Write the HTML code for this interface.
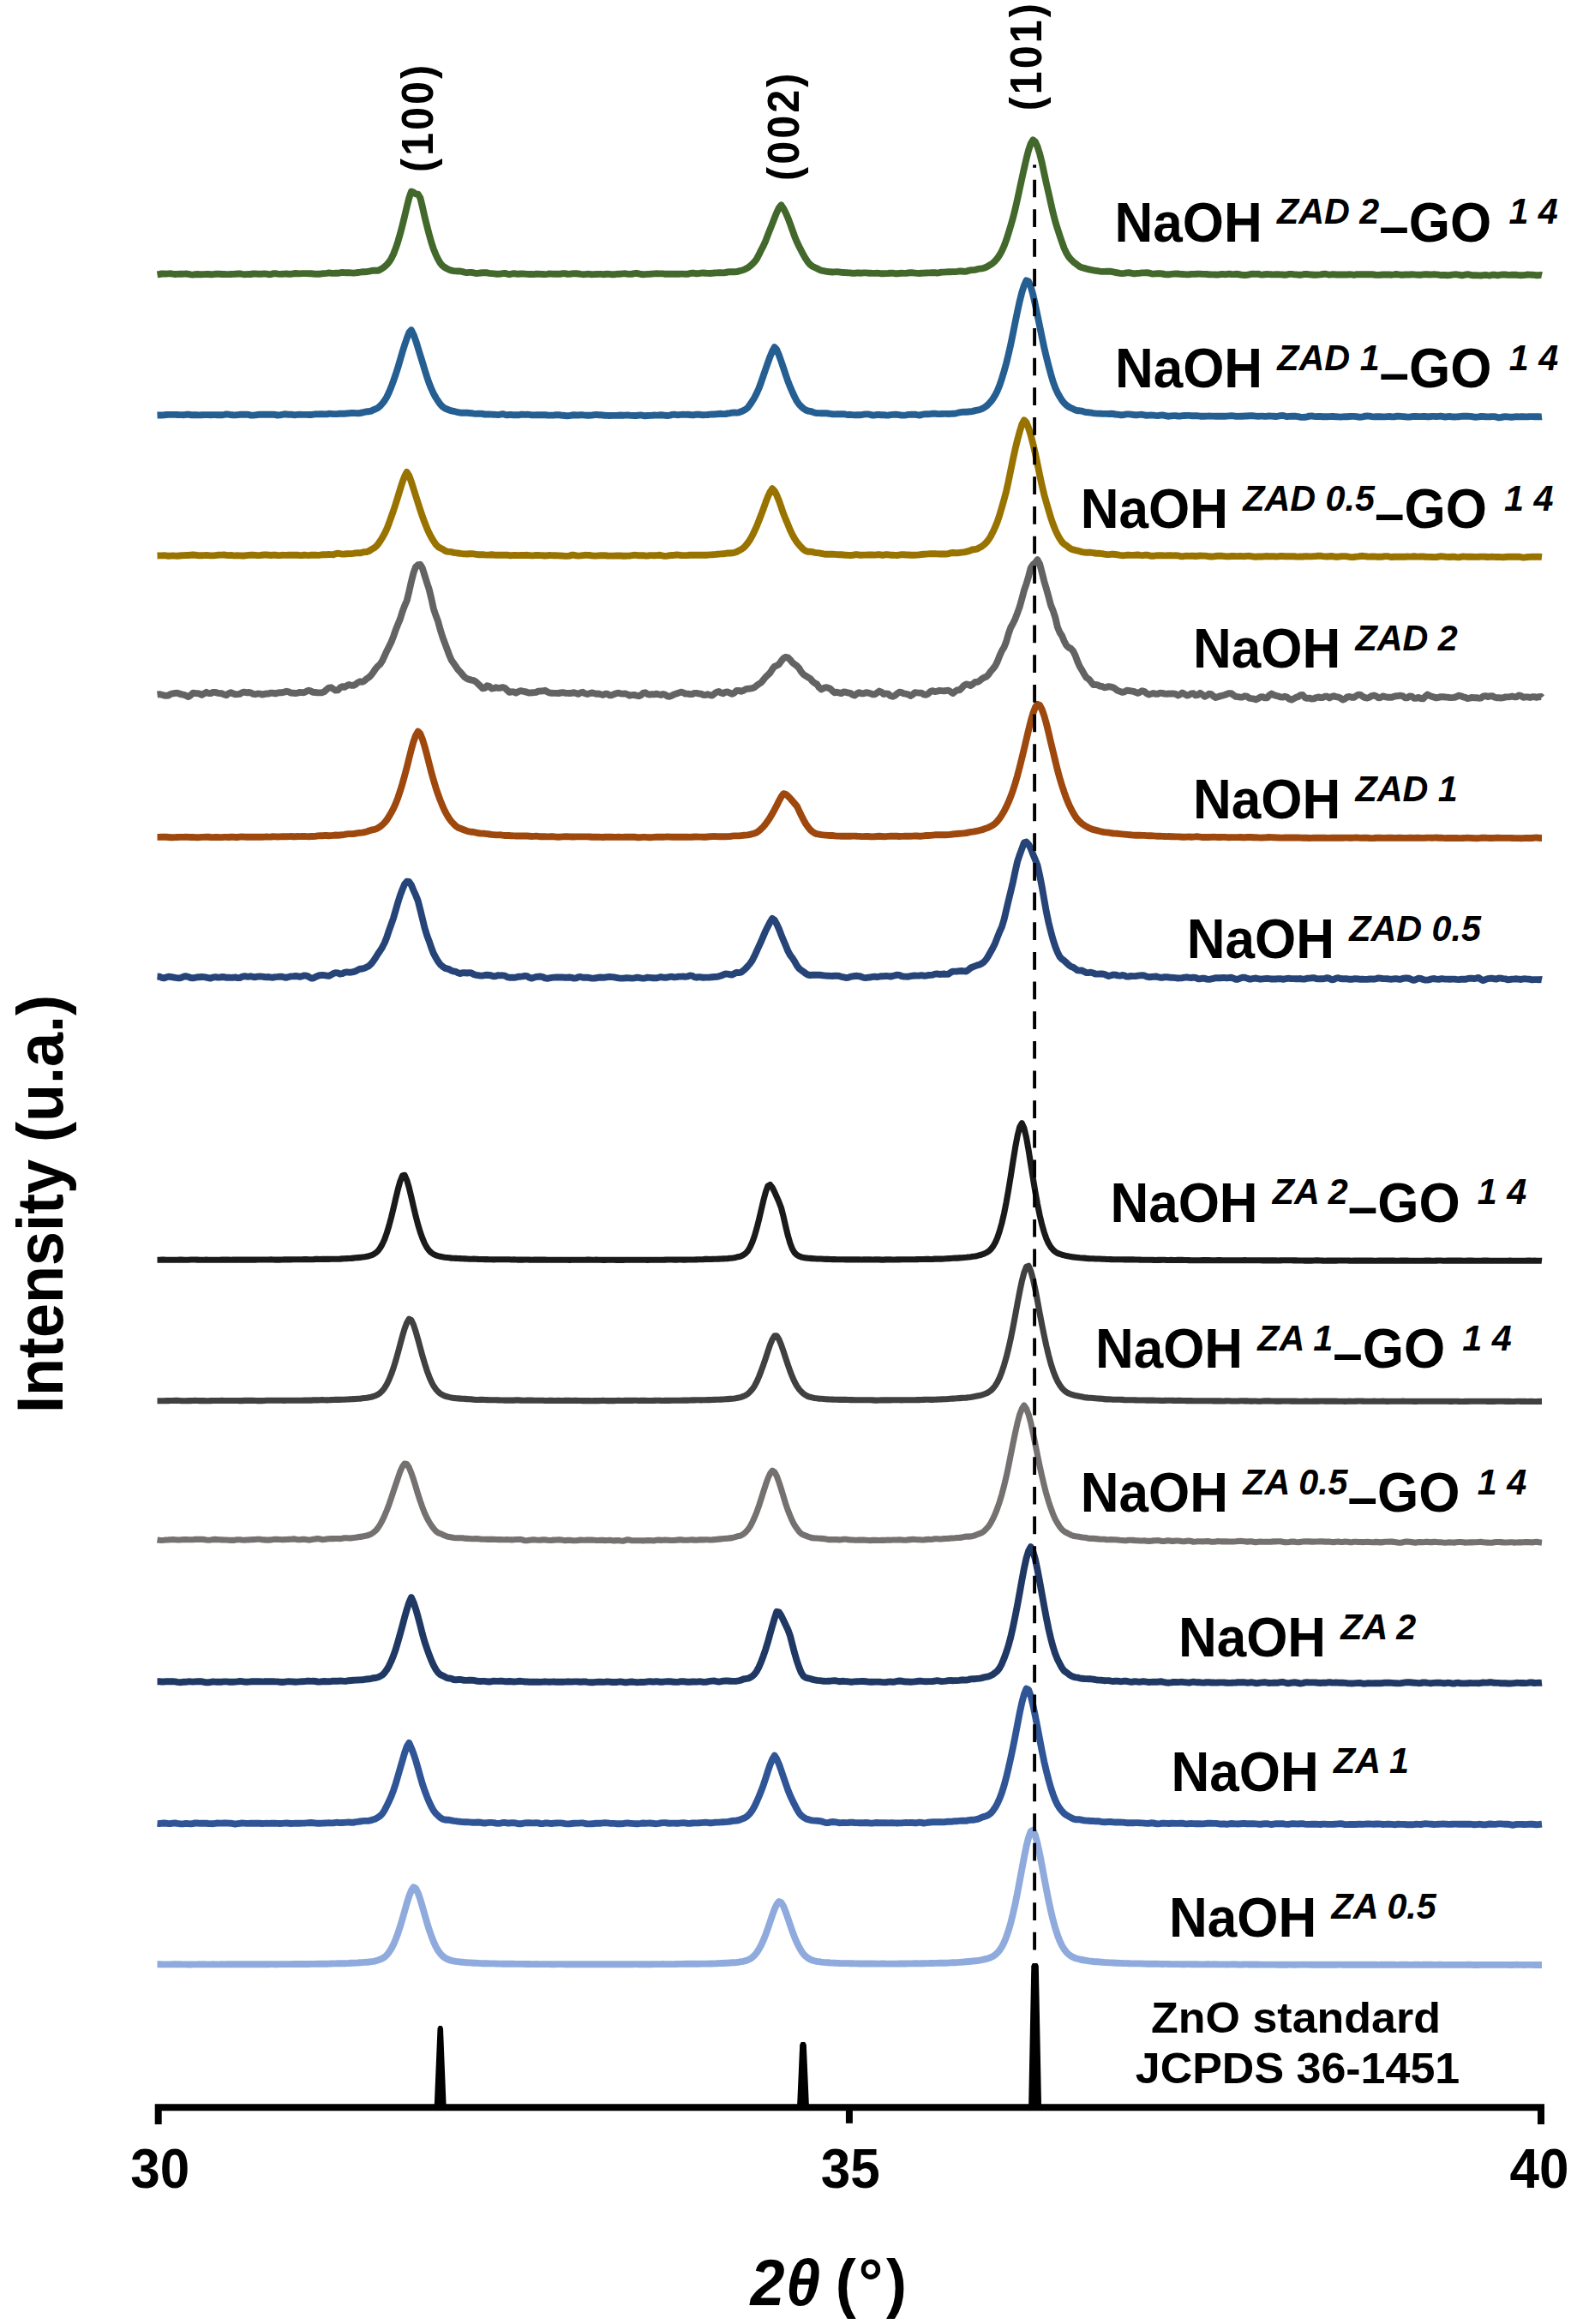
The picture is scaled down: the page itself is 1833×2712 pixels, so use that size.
<!DOCTYPE html>
<html lang="en"><head><meta charset="utf-8"><title>XRD patterns</title>
<style>html,body{margin:0;padding:0;background:#fff;overflow:hidden;width:1833px;height:2712px;}svg{display:block;}text{font-family:'Liberation Sans', Arial, Helvetica, sans-serif;fill:#000;}</style>
</head><body>
<svg width="1833" height="2712" viewBox="0 0 1833 2712">
<rect x="0" y="0" width="1833" height="2712" fill="#ffffff"/>
<g id="chart">
<g id="curves">
<path d="M183.5,320.4 186.1,320.0 188.7,319.5 191.3,319.4 193.9,319.6 196.5,319.4 199.1,319.3 201.7,319.7 204.3,320.0 206.9,319.9 209.5,319.7 212.1,319.7 214.7,319.6 217.3,319.5 219.9,319.8 222.5,320.3 225.1,320.6 227.7,320.2 230.3,320.0 232.9,320.2 235.5,320.2 238.1,320.1 240.7,319.9 243.3,320.0 245.9,320.2 248.5,320.2 251.1,319.8 253.7,319.6 256.3,319.8 258.9,320.0 261.5,320.0 264.1,320.1 266.7,320.1 269.3,320.0 271.9,319.9 274.5,319.8 277.1,319.5 279.7,319.4 282.3,319.9 284.9,320.2 287.5,320.1 290.1,320.0 292.7,320.0 295.3,319.5 297.9,319.4 300.5,319.7 303.1,319.8 305.7,319.7 308.3,319.4 310.9,319.6 313.5,320.2 316.1,320.1 318.7,319.3 321.3,319.1 323.9,319.6 326.5,319.9 329.1,319.8 331.7,319.6 334.3,319.5 336.9,319.8 339.5,319.9 342.1,319.4 344.7,319.0 347.3,319.2 349.9,319.4 352.5,319.1 355.1,319.1 357.7,319.1 360.3,319.2 362.9,319.3 365.5,319.5 368.1,319.8 370.7,319.8 373.3,319.7 375.9,319.3 378.5,319.1 381.1,318.8 383.7,318.4 386.3,318.7 388.9,318.9 391.5,318.7 394.1,318.8 396.7,318.4 399.3,318.0 401.9,318.1 404.5,318.2 407.1,318.2 409.7,318.4 412.3,318.6 414.9,318.3 417.5,318.0 420.1,317.7 422.7,317.3 425.3,317.3 427.9,317.1 430.5,316.7 433.1,316.2 435.7,315.7 438.3,315.7 440.9,315.7 443.5,314.7 446.1,313.1 448.7,311.2 451.3,308.9 453.9,305.8 456.5,301.8 459.1,296.5 461.7,289.7 464.3,281.9 466.9,272.9 469.5,262.9 472.1,252.4 474.7,241.3 477.3,231.0 479.9,223.5 482.5,224.5 485.1,226.4 487.7,226.7 490.3,230.8 492.9,241.3 495.5,253.0 498.1,263.5 500.7,273.4 503.3,282.7 505.9,290.7 508.5,297.1 511.1,302.5 513.7,307.0 516.3,310.1 518.9,312.0 521.5,313.5 524.1,314.8 526.7,315.6 529.3,316.1 531.9,316.4 534.5,316.5 537.1,316.5 539.7,317.1 542.3,317.8 544.9,318.1 547.5,317.9 550.1,317.9 552.7,318.4 555.3,319.0 557.9,318.9 560.5,318.5 563.1,318.3 565.7,318.1 568.3,318.3 570.9,318.8 573.5,319.1 576.1,319.4 578.7,319.7 581.3,319.7 583.9,319.6 586.5,319.1 589.1,318.9 591.7,319.6 594.3,320.2 596.9,319.7 599.5,319.1 602.1,319.5 604.7,319.7 607.3,319.5 609.9,319.5 612.5,319.6 615.1,319.9 617.7,320.0 620.3,320.0 622.9,320.1 625.5,319.7 628.1,319.6 630.7,319.9 633.3,320.0 635.9,320.1 638.5,319.8 641.1,319.4 643.7,319.6 646.3,319.8 648.9,319.7 651.5,319.8 654.1,319.7 656.7,319.2 659.3,319.2 661.9,319.8 664.5,319.9 667.1,319.4 669.7,319.2 672.3,319.3 674.9,319.5 677.5,319.9 680.1,320.2 682.7,320.1 685.3,319.8 687.9,319.9 690.5,320.3 693.1,320.1 695.7,320.0 698.3,319.9 700.9,319.9 703.5,320.2 706.1,320.0 708.7,319.8 711.3,319.9 713.9,320.3 716.5,320.3 719.1,319.9 721.7,319.7 724.3,319.7 726.9,319.4 729.5,319.3 732.1,319.7 734.7,319.9 737.3,319.8 739.9,319.2 742.5,318.8 745.1,319.4 747.7,320.0 750.3,320.2 752.9,320.1 755.5,319.9 758.1,319.8 760.7,319.6 763.3,319.4 765.9,319.3 768.5,319.4 771.1,319.4 773.7,319.4 776.3,319.8 778.9,319.7 781.5,319.6 784.1,319.8 786.7,319.7 789.3,319.7 791.9,319.8 794.5,319.6 797.1,319.6 799.7,319.9 802.3,319.8 804.9,319.2 807.5,318.6 810.1,318.8 812.7,319.3 815.3,319.1 817.9,318.6 820.5,318.5 823.1,318.7 825.7,318.9 828.3,319.0 830.9,318.8 833.5,318.5 836.1,318.4 838.7,318.2 841.3,318.2 843.9,318.4 846.5,318.0 849.1,317.5 851.7,317.2 854.3,317.2 856.9,317.3 859.5,317.1 862.1,316.4 864.7,315.7 867.3,315.0 869.9,313.8 872.5,312.4 875.1,310.6 877.7,308.3 880.3,305.6 882.9,302.1 885.5,297.2 888.1,291.8 890.7,286.9 893.3,281.1 895.9,274.2 898.5,267.6 901.1,261.1 903.7,254.4 906.3,247.9 908.9,242.5 911.5,239.4 914.1,243.2 916.7,248.2 919.3,254.2 921.9,261.2 924.5,268.4 927.1,275.7 929.7,282.1 932.3,287.4 934.9,292.6 937.5,297.5 940.1,301.9 942.7,305.9 945.3,308.8 947.9,310.7 950.5,312.0 953.1,313.2 955.7,314.6 958.3,315.7 960.9,316.1 963.5,316.6 966.1,317.0 968.7,317.3 971.3,317.5 973.9,317.4 976.5,317.2 979.1,317.4 981.7,317.9 984.3,318.0 986.9,318.1 989.5,318.3 992.1,318.4 994.7,318.9 997.3,318.8 999.9,318.4 1002.5,318.5 1005.1,318.7 1007.7,318.4 1010.3,318.4 1012.9,318.7 1015.5,318.8 1018.1,318.9 1020.7,318.9 1023.3,318.8 1025.9,318.9 1028.5,319.3 1031.1,319.2 1033.7,319.1 1036.3,319.0 1038.9,318.6 1041.5,318.7 1044.1,319.2 1046.7,319.2 1049.3,319.0 1051.9,318.8 1054.5,318.9 1057.1,318.9 1059.7,318.5 1062.3,318.1 1064.9,318.3 1067.5,318.6 1070.1,318.9 1072.7,319.0 1075.3,318.8 1077.9,318.6 1080.5,318.5 1083.1,318.4 1085.7,318.3 1088.3,318.1 1090.9,318.2 1093.5,318.6 1096.1,318.2 1098.7,317.6 1101.3,317.6 1103.9,317.4 1106.5,317.3 1109.1,317.2 1111.7,317.1 1114.3,317.1 1116.9,316.8 1119.5,316.4 1122.1,316.5 1124.7,316.8 1127.3,316.7 1129.9,315.9 1132.5,315.2 1135.1,315.1 1137.7,314.9 1140.3,314.2 1142.9,313.7 1145.5,313.4 1148.1,312.7 1150.7,311.7 1153.3,310.3 1155.9,308.7 1158.5,306.9 1161.1,304.5 1163.7,301.4 1166.3,297.6 1168.9,292.9 1171.5,287.2 1174.1,280.2 1176.7,272.0 1179.3,263.4 1181.9,254.4 1184.5,244.0 1187.1,232.5 1189.7,220.5 1192.3,208.5 1194.9,196.6 1197.5,185.3 1200.1,175.3 1202.7,167.6 1205.3,163.4 1207.9,165.4 1210.5,171.1 1213.1,179.4 1215.7,189.8 1218.3,202.1 1220.9,214.3 1223.5,225.4 1226.1,237.1 1228.7,248.6 1231.3,258.5 1233.9,267.1 1236.5,274.9 1239.1,282.7 1241.7,289.8 1244.3,295.4 1246.9,299.6 1249.5,302.7 1252.1,305.3 1254.7,307.3 1257.3,309.4 1259.9,311.3 1262.5,312.2 1265.1,312.9 1267.7,313.7 1270.3,314.3 1272.9,314.9 1275.5,315.4 1278.1,315.8 1280.7,316.2 1283.3,316.6 1285.9,316.9 1288.5,316.9 1291.1,316.8 1293.7,316.8 1296.3,316.8 1298.9,317.3 1301.5,318.0 1304.1,318.4 1306.7,318.9 1309.3,319.2 1311.9,318.9 1314.5,318.4 1317.1,318.1 1319.7,318.6 1322.3,319.3 1324.9,319.2 1327.5,318.9 1330.1,318.7 1332.7,318.4 1335.3,318.4 1337.9,318.3 1340.5,318.5 1343.1,319.3 1345.7,319.6 1348.3,319.4 1350.9,319.3 1353.5,319.2 1356.1,319.5 1358.7,320.0 1361.3,320.3 1363.9,320.3 1366.5,319.9 1369.1,319.6 1371.7,319.4 1374.3,319.5 1376.9,319.9 1379.5,320.0 1382.1,320.1 1384.7,320.4 1387.3,320.3 1389.9,319.9 1392.5,319.9 1395.1,319.8 1397.7,319.6 1400.3,319.6 1402.9,319.9 1405.5,319.9 1408.1,320.0 1410.7,320.3 1413.3,320.4 1415.9,320.4 1418.5,320.5 1421.1,320.6 1423.7,320.2 1426.3,319.9 1428.9,320.2 1431.5,320.0 1434.1,319.6 1436.7,320.0 1439.3,320.1 1441.9,319.8 1444.5,320.0 1447.1,320.5 1449.7,320.9 1452.3,321.0 1454.9,320.9 1457.5,320.4 1460.1,319.7 1462.7,319.8 1465.3,319.9 1467.9,319.7 1470.5,320.3 1473.1,320.6 1475.7,320.2 1478.3,320.0 1480.9,320.1 1483.5,320.3 1486.1,320.4 1488.7,320.3 1491.3,320.2 1493.9,320.4 1496.5,320.5 1499.1,320.7 1501.7,320.5 1504.3,319.9 1506.9,319.9 1509.5,320.2 1512.1,320.4 1514.7,320.7 1517.3,320.8 1519.9,320.4 1522.5,319.9 1525.1,320.0 1527.7,320.4 1530.3,320.5 1532.9,320.7 1535.5,320.7 1538.1,320.6 1540.7,320.4 1543.3,320.0 1545.9,319.7 1548.5,320.2 1551.1,320.6 1553.7,320.3 1556.3,320.2 1558.9,320.5 1561.5,320.5 1564.1,320.5 1566.7,320.5 1569.3,320.4 1571.9,320.5 1574.5,320.3 1577.1,320.4 1579.7,320.8 1582.3,320.3 1584.9,320.1 1587.5,320.3 1590.1,320.3 1592.7,320.1 1595.3,320.2 1597.9,320.2 1600.5,320.2 1603.1,320.5 1605.7,320.9 1608.3,320.9 1610.9,320.7 1613.5,320.5 1616.1,320.5 1618.7,320.4 1621.3,320.5 1623.9,320.7 1626.5,320.4 1629.1,320.0 1631.7,320.3 1634.3,320.7 1636.9,320.7 1639.5,320.5 1642.1,320.5 1644.7,320.5 1647.3,320.3 1649.9,320.4 1652.5,320.6 1655.1,320.7 1657.7,320.8 1660.3,320.4 1662.9,320.1 1665.5,320.3 1668.1,320.5 1670.7,320.4 1673.3,320.3 1675.9,320.4 1678.5,320.7 1681.1,321.1 1683.7,321.0 1686.3,321.0 1688.9,321.3 1691.5,321.1 1694.1,320.6 1696.7,320.4 1699.3,320.3 1701.9,320.6 1704.5,321.2 1707.1,321.2 1709.7,320.6 1712.3,320.2 1714.9,320.7 1717.5,321.2 1720.1,321.2 1722.7,321.3 1725.3,321.4 1727.9,321.5 1730.5,321.1 1733.1,320.8 1735.7,321.2 1738.3,321.5 1740.9,320.8 1743.5,320.6 1746.1,321.2 1748.7,321.2 1751.3,320.7 1753.9,320.4 1756.5,320.5 1759.1,320.9 1761.7,320.9 1764.3,320.7 1766.9,320.6 1769.5,320.8 1772.1,321.1 1774.7,321.2 1777.3,321.1 1779.9,320.8 1782.5,320.5 1785.1,320.6 1787.7,320.7 1790.3,320.9 1792.9,321.3 1795.5,321.2 1798.1,320.9 1799.0,321.1" fill="none" stroke="#43682B" stroke-width="7.9" stroke-linejoin="round" stroke-linecap="butt"/>
<path d="M183.5,484.5 186.1,484.4 188.7,484.5 191.3,484.4 193.9,484.0 196.5,483.9 199.1,483.9 201.7,483.9 204.3,483.9 206.9,484.0 209.5,484.1 212.1,484.1 214.7,484.2 217.3,483.8 219.9,483.6 222.5,484.2 225.1,484.3 227.7,484.1 230.3,484.3 232.9,484.4 235.5,484.2 238.1,484.1 240.7,484.1 243.3,484.1 245.9,484.3 248.5,484.1 251.1,484.1 253.7,484.3 256.3,484.3 258.9,484.3 261.5,483.9 264.1,483.4 266.7,483.7 269.3,484.1 271.9,484.3 274.5,484.4 277.1,484.1 279.7,483.8 282.3,483.7 284.9,483.8 287.5,483.6 290.1,483.9 292.7,484.6 295.3,484.6 297.9,484.3 300.5,484.0 303.1,483.7 305.7,483.7 308.3,483.8 310.9,483.7 313.5,483.7 316.1,483.7 318.7,483.7 321.3,484.0 323.9,484.5 326.5,484.4 329.1,483.8 331.7,483.3 334.3,483.5 336.9,483.7 339.5,483.7 342.1,484.0 344.7,484.2 347.3,483.9 349.9,483.8 352.5,483.9 355.1,483.9 357.7,483.9 360.3,484.0 362.9,484.0 365.5,483.6 368.1,483.3 370.7,483.4 373.3,483.2 375.9,483.1 378.5,483.4 381.1,483.3 383.7,482.8 386.3,482.9 388.9,483.1 391.5,483.1 394.1,483.0 396.7,482.7 399.3,482.7 401.9,482.7 404.5,482.5 407.1,482.3 409.7,482.0 412.3,481.9 414.9,482.1 417.5,482.3 420.1,482.0 422.7,481.5 425.3,480.9 427.9,480.3 430.5,480.2 433.1,479.6 435.7,478.3 438.3,477.3 440.9,476.0 443.5,473.7 446.1,470.9 448.7,467.5 451.3,463.2 453.9,457.8 456.5,451.5 459.1,444.4 461.7,436.9 464.3,428.7 466.9,419.9 469.5,410.9 472.1,402.6 474.7,394.9 477.3,388.2 479.9,385.2 482.5,390.4 485.1,397.5 487.7,405.9 490.3,414.4 492.9,422.7 495.5,431.3 498.1,439.7 500.7,447.2 503.3,453.7 505.9,459.3 508.5,464.0 511.1,468.1 513.7,471.8 516.3,474.5 518.9,476.4 521.5,477.5 524.1,478.5 526.7,479.4 529.3,479.9 531.9,480.5 534.5,481.2 537.1,481.7 539.7,481.7 542.3,481.7 544.9,481.8 547.5,482.0 550.1,482.2 552.7,482.6 555.3,482.9 557.9,482.8 560.5,482.7 563.1,483.0 565.7,483.5 568.3,483.5 570.9,483.5 573.5,483.6 576.1,483.7 578.7,483.9 581.3,484.1 583.9,483.7 586.5,483.1 589.1,483.8 591.7,484.4 594.3,484.0 596.9,484.0 599.5,484.3 602.1,484.3 604.7,484.3 607.3,483.8 609.9,483.6 612.5,483.9 615.1,483.8 617.7,483.9 620.3,484.3 622.9,484.4 625.5,484.3 628.1,484.2 630.7,484.3 633.3,484.3 635.9,484.2 638.5,484.5 641.1,484.6 643.7,484.6 646.3,484.5 648.9,484.2 651.5,484.2 654.1,484.5 656.7,484.8 659.3,485.0 661.9,485.3 664.5,485.1 667.1,484.5 669.7,484.3 672.3,484.5 674.9,484.5 677.5,484.3 680.1,484.3 682.7,484.6 685.3,484.7 687.9,484.7 690.5,484.6 693.1,484.1 695.7,483.9 698.3,484.2 700.9,484.3 703.5,484.5 706.1,484.8 708.7,484.9 711.3,485.0 713.9,484.9 716.5,484.9 719.1,484.9 721.7,484.7 724.3,484.5 726.9,484.7 729.5,484.6 732.1,484.4 734.7,484.7 737.3,484.9 739.9,485.0 742.5,485.0 745.1,484.6 747.7,484.4 750.3,485.0 752.9,485.2 755.5,485.0 758.1,484.9 760.7,484.8 763.3,484.5 765.9,484.6 768.5,484.5 771.1,484.3 773.7,484.5 776.3,484.8 778.9,485.0 781.5,484.7 784.1,483.9 786.7,483.7 789.3,484.1 791.9,484.2 794.5,483.9 797.1,483.8 799.7,483.9 802.3,483.8 804.9,484.0 807.5,484.3 810.1,484.2 812.7,483.7 815.3,483.6 817.9,484.0 820.5,484.2 823.1,484.1 825.7,484.0 828.3,483.6 830.9,483.5 833.5,483.5 836.1,483.2 838.7,483.0 841.3,482.8 843.9,483.1 846.5,483.0 849.1,482.5 851.7,482.2 854.3,481.6 856.9,481.4 859.5,481.7 862.1,481.3 864.7,480.3 867.3,479.1 869.9,477.8 872.5,475.7 875.1,472.2 877.7,468.3 880.3,464.0 882.9,458.9 885.5,453.0 888.1,446.0 890.7,438.4 893.3,430.8 895.9,423.4 898.5,416.2 901.1,409.9 903.7,405.2 906.3,408.2 908.9,414.4 911.5,421.8 914.1,429.4 916.7,437.2 919.3,444.7 921.9,451.4 924.5,457.3 927.1,463.0 929.7,468.1 932.3,471.8 934.9,474.5 937.5,476.8 940.1,478.5 942.7,479.5 945.3,479.9 947.9,480.6 950.5,481.6 953.1,482.1 955.7,482.1 958.3,482.2 960.9,482.2 963.5,482.1 966.1,482.5 968.7,482.9 971.3,483.3 973.9,483.4 976.5,483.2 979.1,483.2 981.7,483.2 984.3,483.2 986.9,483.7 989.5,484.0 992.1,483.8 994.7,484.1 997.3,484.4 999.9,484.2 1002.5,484.3 1005.1,484.1 1007.7,483.7 1010.3,483.4 1012.9,483.4 1015.5,483.9 1018.1,484.6 1020.7,484.5 1023.3,483.9 1025.9,484.0 1028.5,484.2 1031.1,484.2 1033.7,484.5 1036.3,484.6 1038.9,484.2 1041.5,483.9 1044.1,483.8 1046.7,483.8 1049.3,484.2 1051.9,484.6 1054.5,484.6 1057.1,484.3 1059.7,483.9 1062.3,483.8 1064.9,483.6 1067.5,483.7 1070.1,484.2 1072.7,484.5 1075.3,484.0 1077.9,483.4 1080.5,483.1 1083.1,483.2 1085.7,483.0 1088.3,482.7 1090.9,482.7 1093.5,483.0 1096.1,483.1 1098.7,483.0 1101.3,482.9 1103.9,482.9 1106.5,483.0 1109.1,482.9 1111.7,482.7 1114.3,482.6 1116.9,482.0 1119.5,481.3 1122.1,480.9 1124.7,480.7 1127.3,480.7 1129.9,480.5 1132.5,480.3 1135.1,479.9 1137.7,479.1 1140.3,478.6 1142.9,478.1 1145.5,477.1 1148.1,475.8 1150.7,474.0 1153.3,471.6 1155.9,468.8 1158.5,465.3 1161.1,461.2 1163.7,456.1 1166.3,449.7 1168.9,441.9 1171.5,433.4 1174.1,424.0 1176.7,413.4 1179.3,401.8 1181.9,389.2 1184.5,376.2 1187.1,363.5 1189.7,351.7 1192.3,341.3 1194.9,333.1 1197.5,327.4 1200.1,328.5 1202.7,334.7 1205.3,343.8 1207.9,355.5 1210.5,368.1 1213.1,380.5 1215.7,393.3 1218.3,405.6 1220.9,416.7 1223.5,426.9 1226.1,436.6 1228.7,445.5 1231.3,452.7 1233.9,458.3 1236.5,463.0 1239.1,467.1 1241.7,470.4 1244.3,472.8 1246.9,474.7 1249.5,476.1 1252.1,477.2 1254.7,478.5 1257.3,479.3 1259.9,479.3 1262.5,479.6 1265.1,480.6 1267.7,481.1 1270.3,481.3 1272.9,481.7 1275.5,482.1 1278.1,482.4 1280.7,482.6 1283.3,482.6 1285.9,482.8 1288.5,482.9 1291.1,482.9 1293.7,483.0 1296.3,482.8 1298.9,483.0 1301.5,483.5 1304.1,483.7 1306.7,484.2 1309.3,484.3 1311.9,483.8 1314.5,483.4 1317.1,483.4 1319.7,483.7 1322.3,484.0 1324.9,484.3 1327.5,484.2 1330.1,483.9 1332.7,483.8 1335.3,484.3 1337.9,484.8 1340.5,484.6 1343.1,484.4 1345.7,484.6 1348.3,484.9 1350.9,485.1 1353.5,484.6 1356.1,484.4 1358.7,484.9 1361.3,485.5 1363.9,485.7 1366.5,485.4 1369.1,485.1 1371.7,485.1 1374.3,485.5 1376.9,485.6 1379.5,485.1 1382.1,485.0 1384.7,484.9 1387.3,484.9 1389.9,485.2 1392.5,485.3 1395.1,485.1 1397.7,485.3 1400.3,485.7 1402.9,485.8 1405.5,485.7 1408.1,485.6 1410.7,485.5 1413.3,485.6 1415.9,485.6 1418.5,485.7 1421.1,485.7 1423.7,485.7 1426.3,485.7 1428.9,485.7 1431.5,485.6 1434.1,485.4 1436.7,485.2 1439.3,485.4 1441.9,485.8 1444.5,485.9 1447.1,485.8 1449.7,485.7 1452.3,485.5 1454.9,485.5 1457.5,485.3 1460.1,485.1 1462.7,485.3 1465.3,485.6 1467.9,485.9 1470.5,485.6 1473.1,485.6 1475.7,485.9 1478.3,485.7 1480.9,485.4 1483.5,485.6 1486.1,485.8 1488.7,486.0 1491.3,485.6 1493.9,485.1 1496.5,484.9 1499.1,485.5 1501.7,486.2 1504.3,485.9 1506.9,485.6 1509.5,485.8 1512.1,485.8 1514.7,486.1 1517.3,486.8 1519.9,486.9 1522.5,486.8 1525.1,486.4 1527.7,485.6 1530.3,485.4 1532.9,485.9 1535.5,486.1 1538.1,486.0 1540.7,486.0 1543.3,486.2 1545.9,486.2 1548.5,486.2 1551.1,486.1 1553.7,485.9 1556.3,486.0 1558.9,486.3 1561.5,486.4 1564.1,486.6 1566.7,486.4 1569.3,486.2 1571.9,486.2 1574.5,486.0 1577.1,485.9 1579.7,485.9 1582.3,486.1 1584.9,486.5 1587.5,486.7 1590.1,486.3 1592.7,485.7 1595.3,485.5 1597.9,485.6 1600.5,486.1 1603.1,486.4 1605.7,486.3 1608.3,486.3 1610.9,486.3 1613.5,486.4 1616.1,486.4 1618.7,486.1 1621.3,486.0 1623.9,486.4 1626.5,486.4 1629.1,485.8 1631.7,485.7 1634.3,485.9 1636.9,486.1 1639.5,486.3 1642.1,486.6 1644.7,486.6 1647.3,486.1 1649.9,485.9 1652.5,486.0 1655.1,486.1 1657.7,486.1 1660.3,486.0 1662.9,486.0 1665.5,486.3 1668.1,486.3 1670.7,485.9 1673.3,485.9 1675.9,486.2 1678.5,485.9 1681.1,485.6 1683.7,486.1 1686.3,486.6 1688.9,486.1 1691.5,486.0 1694.1,486.4 1696.7,486.5 1699.3,486.4 1701.9,486.3 1704.5,485.9 1707.1,485.8 1709.7,485.7 1712.3,485.8 1714.9,485.9 1717.5,486.2 1720.1,486.6 1722.7,486.7 1725.3,486.4 1727.9,486.0 1730.5,486.0 1733.1,486.3 1735.7,486.4 1738.3,486.3 1740.9,486.1 1743.5,486.1 1746.1,486.7 1748.7,487.3 1751.3,487.1 1753.9,486.4 1756.5,486.1 1759.1,486.4 1761.7,486.7 1764.3,486.8 1766.9,486.4 1769.5,486.3 1772.1,486.4 1774.7,486.2 1777.3,486.1 1779.9,486.4 1782.5,486.3 1785.1,486.1 1787.7,486.1 1790.3,486.2 1792.9,486.2 1795.5,486.3 1798.1,486.4 1799.0,486.3" fill="none" stroke="#255E91" stroke-width="7.9" stroke-linejoin="round" stroke-linecap="butt"/>
<path d="M183.5,648.5 186.1,648.4 188.7,648.4 191.3,648.3 193.9,648.4 196.5,648.8 199.1,648.6 201.7,648.4 204.3,648.6 206.9,648.7 209.5,648.5 212.1,648.3 214.7,648.1 217.3,648.0 219.9,648.0 222.5,647.7 225.1,647.5 227.7,647.7 230.3,648.0 232.9,648.2 235.5,648.2 238.1,648.1 240.7,647.9 243.3,648.1 245.9,648.4 248.5,648.4 251.1,648.1 253.7,647.8 256.3,647.6 258.9,647.6 261.5,647.5 264.1,647.8 266.7,648.1 269.3,647.9 271.9,648.2 274.5,648.4 277.1,648.2 279.7,648.4 282.3,648.5 284.9,648.5 287.5,648.2 290.1,647.9 292.7,647.8 295.3,647.8 297.9,647.9 300.5,648.1 303.1,648.1 305.7,647.7 308.3,647.5 310.9,647.5 313.5,647.7 316.1,648.0 318.7,647.7 321.3,647.6 323.9,648.1 326.5,648.1 329.1,647.8 331.7,647.9 334.3,647.9 336.9,647.7 339.5,647.8 342.1,647.8 344.7,647.7 347.3,647.7 349.9,648.1 352.5,648.0 355.1,647.6 357.7,647.9 360.3,648.1 362.9,647.7 365.5,647.6 368.1,647.7 370.7,647.9 373.3,647.7 375.9,647.3 378.5,647.2 381.1,647.2 383.7,647.0 386.3,647.1 388.9,647.2 391.5,646.3 394.1,645.7 396.7,646.2 399.3,646.6 401.9,646.5 404.5,646.3 407.1,646.1 409.7,646.1 412.3,645.9 414.9,645.4 417.5,645.3 420.1,645.4 422.7,644.7 425.3,644.1 427.9,644.0 430.5,643.1 433.1,641.4 435.7,639.9 438.3,638.1 440.9,635.3 443.5,631.5 446.1,627.3 448.7,622.7 451.3,617.3 453.9,610.5 456.5,603.2 459.1,595.9 461.7,587.9 464.3,579.5 466.9,571.0 469.5,562.6 472.1,555.8 474.7,551.0 477.3,555.2 479.9,562.2 482.5,570.4 485.1,578.6 487.7,586.9 490.3,595.0 492.9,602.6 495.5,609.8 498.1,616.3 500.7,622.1 503.3,627.1 505.9,631.4 508.5,635.3 511.1,638.0 513.7,639.5 516.3,640.8 518.9,642.5 521.5,643.6 524.1,643.9 526.7,644.2 529.3,644.8 531.9,645.2 534.5,645.5 537.1,645.9 539.7,646.2 542.3,646.4 544.9,646.5 547.5,646.3 550.1,646.2 552.7,646.4 555.3,646.8 557.9,647.2 560.5,647.2 563.1,647.1 565.7,647.4 568.3,647.6 570.9,647.5 573.5,647.3 576.1,647.5 578.7,647.8 581.3,647.8 583.9,647.6 586.5,647.7 589.1,647.6 591.7,647.7 594.3,648.2 596.9,648.2 599.5,647.9 602.1,648.0 604.7,648.1 607.3,647.9 609.9,648.0 612.5,648.0 615.1,647.8 617.7,648.1 620.3,648.4 622.9,648.2 625.5,647.9 628.1,648.0 630.7,648.1 633.3,648.3 635.9,648.5 638.5,648.3 641.1,648.0 643.7,648.1 646.3,648.3 648.9,648.2 651.5,648.4 654.1,648.5 656.7,648.6 659.3,648.9 661.9,648.9 664.5,648.6 667.1,647.8 669.7,647.7 672.3,648.4 674.9,648.6 677.5,648.4 680.1,648.1 682.7,647.8 685.3,647.9 687.9,648.0 690.5,648.3 693.1,648.6 695.7,648.6 698.3,648.4 700.9,648.2 703.5,648.2 706.1,648.3 708.7,648.5 711.3,648.6 713.9,648.6 716.5,648.6 719.1,648.5 721.7,648.4 724.3,648.5 726.9,648.7 729.5,648.7 732.1,648.6 734.7,648.5 737.3,648.2 739.9,647.8 742.5,647.9 745.1,648.3 747.7,648.2 750.3,648.1 752.9,648.5 755.5,648.6 758.1,648.1 760.7,648.1 763.3,648.3 765.9,648.1 768.5,647.8 771.1,648.0 773.7,648.6 776.3,648.9 778.9,648.6 781.5,648.1 784.1,648.0 786.7,647.9 789.3,647.5 791.9,647.6 794.5,648.0 797.1,648.1 799.7,648.1 802.3,648.0 804.9,647.8 807.5,647.8 810.1,647.8 812.7,647.7 815.3,647.7 817.9,647.7 820.5,647.6 823.1,647.7 825.7,647.7 828.3,647.4 830.9,647.3 833.5,647.1 836.1,646.8 838.7,646.6 841.3,646.4 843.9,646.3 846.5,645.8 849.1,645.5 851.7,645.5 854.3,645.3 856.9,644.8 859.5,644.0 862.1,642.6 864.7,641.1 867.3,639.5 869.9,636.9 872.5,633.5 875.1,629.9 877.7,625.2 880.3,619.8 882.9,614.1 885.5,607.5 888.1,600.8 890.7,593.8 893.3,586.5 895.9,579.7 898.5,574.1 901.1,570.2 903.7,572.9 906.3,577.9 908.9,584.2 911.5,591.7 914.1,599.4 916.7,605.9 919.3,612.0 921.9,618.4 924.5,623.9 927.1,628.5 929.7,632.6 932.3,635.8 934.9,638.6 937.5,641.2 940.1,642.9 942.7,643.7 945.3,643.7 947.9,644.1 950.5,644.8 953.1,645.1 955.7,645.4 958.3,645.8 960.9,646.4 963.5,646.8 966.1,646.8 968.7,646.8 971.3,646.8 973.9,646.9 976.5,647.1 979.1,647.3 981.7,647.3 984.3,647.5 986.9,647.8 989.5,647.9 992.1,648.0 994.7,647.9 997.3,647.3 999.9,647.2 1002.5,647.7 1005.1,647.7 1007.7,647.6 1010.3,647.6 1012.9,647.5 1015.5,647.4 1018.1,647.5 1020.7,647.6 1023.3,647.3 1025.9,647.2 1028.5,647.7 1031.1,647.7 1033.7,647.2 1036.3,647.3 1038.9,647.7 1041.5,647.8 1044.1,647.9 1046.7,648.0 1049.3,647.6 1051.9,647.2 1054.5,647.3 1057.1,647.5 1059.7,647.5 1062.3,647.7 1064.9,647.8 1067.5,647.7 1070.1,647.6 1072.7,647.3 1075.3,647.0 1077.9,646.8 1080.5,646.6 1083.1,646.4 1085.7,646.3 1088.3,646.2 1090.9,646.1 1093.5,646.4 1096.1,646.5 1098.7,646.4 1101.3,646.5 1103.9,646.5 1106.5,646.1 1109.1,645.4 1111.7,645.0 1114.3,645.2 1116.9,645.2 1119.5,645.0 1122.1,644.7 1124.7,644.4 1127.3,643.8 1129.9,643.2 1132.5,642.3 1135.1,641.3 1137.7,641.1 1140.3,640.5 1142.9,639.1 1145.5,637.7 1148.1,635.7 1150.7,633.1 1153.3,630.0 1155.9,625.9 1158.5,620.8 1161.1,615.2 1163.7,608.7 1166.3,600.9 1168.9,592.1 1171.5,583.0 1174.1,573.2 1176.7,561.5 1179.3,548.7 1181.9,536.1 1184.5,524.1 1187.1,513.5 1189.7,503.9 1192.3,495.4 1194.9,490.3 1197.5,493.0 1200.1,499.5 1202.7,507.9 1205.3,517.9 1207.9,529.1 1210.5,541.6 1213.1,554.3 1215.7,566.3 1218.3,577.2 1220.9,586.5 1223.5,595.4 1226.1,604.2 1228.7,611.7 1231.3,618.3 1233.9,623.9 1236.5,628.6 1239.1,632.4 1241.7,635.0 1244.3,636.6 1246.9,638.7 1249.5,640.5 1252.1,641.4 1254.7,642.1 1257.3,642.7 1259.9,643.3 1262.5,644.2 1265.1,644.5 1267.7,644.7 1270.3,644.8 1272.9,644.8 1275.5,645.1 1278.1,645.7 1280.7,645.8 1283.3,645.8 1285.9,646.2 1288.5,646.7 1291.1,647.0 1293.7,647.1 1296.3,646.8 1298.9,646.8 1301.5,647.0 1304.1,647.3 1306.7,647.8 1309.3,648.2 1311.9,648.1 1314.5,647.8 1317.1,647.8 1319.7,647.9 1322.3,647.9 1324.9,647.7 1327.5,647.5 1330.1,647.9 1332.7,648.2 1335.3,647.8 1337.9,647.6 1340.5,648.2 1343.1,648.8 1345.7,648.8 1348.3,648.4 1350.9,648.2 1353.5,648.2 1356.1,648.2 1358.7,648.4 1361.3,648.3 1363.9,648.1 1366.5,648.2 1369.1,648.4 1371.7,648.3 1374.3,648.4 1376.9,649.0 1379.5,649.3 1382.1,648.9 1384.7,648.7 1387.3,648.9 1389.9,648.7 1392.5,648.8 1395.1,649.0 1397.7,648.7 1400.3,648.5 1402.9,648.6 1405.5,648.6 1408.1,648.9 1410.7,649.3 1413.3,649.5 1415.9,649.4 1418.5,649.0 1421.1,648.7 1423.7,648.8 1426.3,648.8 1428.9,649.1 1431.5,649.4 1434.1,649.3 1436.7,649.0 1439.3,648.9 1441.9,649.1 1444.5,649.1 1447.1,648.9 1449.7,649.1 1452.3,649.2 1454.9,648.9 1457.5,648.8 1460.1,649.1 1462.7,649.6 1465.3,649.7 1467.9,649.5 1470.5,649.5 1473.1,649.5 1475.7,649.2 1478.3,649.0 1480.9,649.3 1483.5,649.3 1486.1,649.2 1488.7,649.5 1491.3,649.4 1493.9,649.0 1496.5,649.0 1499.1,649.2 1501.7,649.3 1504.3,649.3 1506.9,649.1 1509.5,649.2 1512.1,649.5 1514.7,649.6 1517.3,649.5 1519.9,649.5 1522.5,649.3 1525.1,649.2 1527.7,649.4 1530.3,649.4 1532.9,649.1 1535.5,649.0 1538.1,648.7 1540.7,648.7 1543.3,649.1 1545.9,649.4 1548.5,649.5 1551.1,649.2 1553.7,649.0 1556.3,649.3 1558.9,649.8 1561.5,649.7 1564.1,649.3 1566.7,649.1 1569.3,649.1 1571.9,649.4 1574.5,649.8 1577.1,650.1 1579.7,650.0 1582.3,649.7 1584.9,649.4 1587.5,649.0 1590.1,648.8 1592.7,649.1 1595.3,649.5 1597.9,649.6 1600.5,649.5 1603.1,649.4 1605.7,649.7 1608.3,649.8 1610.9,649.7 1613.5,649.5 1616.1,649.1 1618.7,649.1 1621.3,649.6 1623.9,650.0 1626.5,649.8 1629.1,649.6 1631.7,649.7 1634.3,649.7 1636.9,649.8 1639.5,649.7 1642.1,649.5 1644.7,649.6 1647.3,649.5 1649.9,649.3 1652.5,649.5 1655.1,649.6 1657.7,649.5 1660.3,649.5 1662.9,649.7 1665.5,649.9 1668.1,649.9 1670.7,650.0 1673.3,650.1 1675.9,650.0 1678.5,649.6 1681.1,649.2 1683.7,649.4 1686.3,649.7 1688.9,649.9 1691.5,650.0 1694.1,649.8 1696.7,649.6 1699.3,650.1 1701.9,650.4 1704.5,649.9 1707.1,649.4 1709.7,649.6 1712.3,649.8 1714.9,649.7 1717.5,649.7 1720.1,649.9 1722.7,649.9 1725.3,649.8 1727.9,649.6 1730.5,649.6 1733.1,649.8 1735.7,650.0 1738.3,649.9 1740.9,649.8 1743.5,649.9 1746.1,650.0 1748.7,650.0 1751.3,650.1 1753.9,650.2 1756.5,650.0 1759.1,649.8 1761.7,649.7 1764.3,649.8 1766.9,649.8 1769.5,649.7 1772.1,649.7 1774.7,650.2 1777.3,650.6 1779.9,650.3 1782.5,650.0 1785.1,649.9 1787.7,649.8 1790.3,649.8 1792.9,649.7 1795.5,649.7 1798.1,649.9 1799.0,650.0" fill="none" stroke="#997300" stroke-width="7.9" stroke-linejoin="round" stroke-linecap="butt"/>
<path d="M183.5,810.4 186.1,810.1 188.7,810.8 191.3,811.5 193.9,811.9 196.5,811.5 199.1,810.0 201.7,809.3 204.3,808.9 206.9,808.8 209.5,809.6 212.1,810.4 214.7,810.8 217.3,811.9 219.9,813.1 222.5,811.2 225.1,808.8 227.7,809.0 230.3,809.1 232.9,809.7 235.5,810.9 238.1,809.3 240.7,807.8 243.3,809.0 245.9,809.1 248.5,807.9 251.1,807.9 253.7,808.6 256.3,809.1 258.9,809.3 261.5,810.5 264.1,811.2 266.7,809.3 269.3,808.2 271.9,809.4 274.5,810.2 277.1,810.1 279.7,809.9 282.3,808.3 284.9,807.6 287.5,808.3 290.1,808.0 292.7,808.4 295.3,809.8 297.9,810.2 300.5,809.5 303.1,809.6 305.7,810.5 308.3,810.0 310.9,809.5 313.5,809.5 316.1,808.6 318.7,808.8 321.3,809.4 323.9,808.6 326.5,808.1 329.1,808.2 331.7,807.6 334.3,806.8 336.9,807.4 339.5,808.6 342.1,808.7 344.7,809.0 347.3,808.6 349.9,807.9 352.5,808.2 355.1,808.0 357.7,806.7 360.3,805.6 362.9,806.7 365.5,807.9 368.1,808.0 370.7,808.4 373.3,808.4 375.9,808.2 378.5,807.1 381.1,804.6 383.7,802.6 386.3,802.3 388.9,804.0 391.5,805.6 394.1,805.4 396.7,802.7 399.3,801.1 401.9,801.9 404.5,800.3 407.1,798.9 409.7,799.9 412.3,799.9 414.9,798.6 417.5,796.5 420.1,795.3 422.7,795.8 425.3,794.4 427.9,792.0 430.5,790.4 433.1,787.8 435.7,784.2 438.3,780.3 440.9,777.4 443.5,775.1 446.1,771.1 448.7,765.3 451.3,759.7 453.9,754.6 456.5,749.2 459.1,742.6 461.7,735.0 464.3,728.5 466.9,722.4 469.5,713.9 472.1,706.8 474.7,701.0 477.3,690.4 479.9,678.7 482.5,668.5 485.1,661.4 487.7,659.2 490.3,658.8 492.9,663.1 495.5,671.5 498.1,679.9 500.7,687.8 503.3,698.5 505.9,710.5 508.5,718.2 511.1,725.2 513.7,734.8 516.3,743.1 518.9,750.2 521.5,757.2 524.1,764.2 526.7,770.3 529.3,774.0 531.9,777.7 534.5,781.6 537.1,784.3 539.7,787.4 542.3,790.3 544.9,792.0 547.5,792.9 550.1,793.6 552.7,794.1 555.3,795.7 557.9,798.1 560.5,800.6 563.1,803.3 565.7,802.9 568.3,800.3 570.9,800.9 573.5,803.5 576.1,803.2 578.7,802.3 581.3,802.9 583.9,802.7 586.5,802.2 589.1,802.8 591.7,805.4 594.3,807.9 596.9,807.3 599.5,807.4 602.1,808.6 604.7,807.2 607.3,806.1 609.9,806.7 612.5,807.1 615.1,807.9 617.7,808.6 620.3,808.3 622.9,808.2 625.5,807.9 628.1,806.6 630.7,806.5 633.3,806.4 635.9,805.8 638.5,807.2 641.1,808.6 643.7,808.7 646.3,808.9 648.9,808.9 651.5,809.0 654.1,808.5 656.7,808.1 659.3,808.7 661.9,808.9 664.5,809.0 667.1,808.8 669.7,808.2 672.3,809.0 674.9,809.9 677.5,808.4 680.1,807.8 682.7,809.3 685.3,810.0 687.9,809.3 690.5,808.4 693.1,809.0 695.7,809.8 698.3,809.5 700.9,810.3 703.5,811.0 706.1,809.8 708.7,809.7 711.3,811.4 713.9,811.2 716.5,810.1 719.1,809.2 721.7,808.7 724.3,809.4 726.9,809.7 729.5,809.4 732.1,810.4 734.7,811.7 737.3,811.2 739.9,810.9 742.5,811.7 745.1,812.2 747.7,811.2 750.3,808.9 752.9,808.3 755.5,810.1 758.1,810.5 760.7,810.1 763.3,810.3 765.9,809.7 768.5,810.3 771.1,811.0 773.7,809.9 776.3,810.8 778.9,812.6 781.5,812.7 784.1,811.6 786.7,810.3 789.3,809.5 791.9,808.6 794.5,807.6 797.1,808.3 799.7,809.6 802.3,809.6 804.9,810.0 807.5,810.1 810.1,808.9 812.7,808.9 815.3,809.5 817.9,809.6 820.5,810.8 823.1,811.1 825.7,810.1 828.3,811.1 830.9,811.5 833.5,809.6 836.1,807.8 838.7,807.0 841.3,808.4 843.9,809.3 846.5,807.6 849.1,807.4 851.7,808.8 854.3,809.8 856.9,808.4 859.5,805.9 862.1,805.9 864.7,806.7 867.3,805.9 869.9,804.4 872.5,803.7 875.1,803.5 877.7,803.2 880.3,802.1 882.9,800.0 885.5,798.1 888.1,796.5 890.7,793.4 893.3,790.1 895.9,787.7 898.5,785.1 901.1,781.0 903.7,777.7 906.3,776.8 908.9,775.1 911.5,771.5 914.1,768.2 916.7,766.8 919.3,767.3 921.9,769.8 924.5,773.1 927.1,775.1 929.7,777.0 932.3,779.7 934.9,784.0 937.5,787.0 940.1,788.7 942.7,790.3 945.3,791.8 947.9,794.9 950.5,797.1 953.1,798.4 955.7,802.3 958.3,804.4 960.9,803.1 963.5,802.2 966.1,802.7 968.7,803.7 971.3,806.3 973.9,808.3 976.5,807.7 979.1,808.5 981.7,809.0 984.3,807.5 986.9,807.7 989.5,808.5 992.1,808.8 994.7,810.7 997.3,811.6 999.9,809.4 1002.5,808.2 1005.1,809.2 1007.7,809.2 1010.3,808.3 1012.9,808.5 1015.5,809.3 1018.1,810.2 1020.7,810.3 1023.3,808.5 1025.9,806.6 1028.5,807.6 1031.1,810.0 1033.7,809.4 1036.3,809.7 1038.9,812.0 1041.5,812.7 1044.1,811.8 1046.7,809.5 1049.3,807.7 1051.9,808.2 1054.5,809.4 1057.1,809.7 1059.7,810.4 1062.3,811.9 1064.9,810.5 1067.5,808.1 1070.1,808.4 1072.7,808.6 1075.3,808.7 1077.9,810.4 1080.5,810.8 1083.1,809.4 1085.7,807.0 1088.3,806.1 1090.9,807.1 1093.5,806.7 1096.1,805.8 1098.7,806.1 1101.3,806.4 1103.9,806.0 1106.5,805.7 1109.1,807.2 1111.7,809.0 1114.3,807.1 1116.9,805.3 1119.5,805.4 1122.1,802.9 1124.7,799.9 1127.3,798.5 1129.9,798.9 1132.5,800.1 1135.1,798.2 1137.7,796.0 1140.3,795.8 1142.9,794.6 1145.5,792.3 1148.1,790.7 1150.7,789.8 1153.3,787.2 1155.9,783.5 1158.5,780.5 1161.1,777.2 1163.7,772.1 1166.3,765.3 1168.9,759.5 1171.5,755.4 1174.1,748.8 1176.7,739.6 1179.3,732.2 1181.9,727.6 1184.5,722.2 1187.1,715.3 1189.7,708.2 1192.3,698.7 1194.9,688.9 1197.5,681.5 1200.1,672.6 1202.7,662.8 1205.3,659.0 1207.9,656.6 1210.5,653.3 1213.1,658.1 1215.7,667.9 1218.3,678.3 1220.9,687.2 1223.5,696.5 1226.1,706.4 1228.7,712.6 1231.3,720.7 1233.9,731.8 1236.5,738.0 1239.1,742.0 1241.7,748.2 1244.3,753.2 1246.9,755.6 1249.5,756.9 1252.1,759.7 1254.7,765.0 1257.3,772.1 1259.9,778.0 1262.5,782.2 1265.1,786.9 1267.7,790.9 1270.3,792.4 1272.9,795.5 1275.5,799.0 1278.1,798.9 1280.7,799.4 1283.3,800.6 1285.9,801.0 1288.5,802.3 1291.1,801.9 1293.7,801.1 1296.3,801.6 1298.9,802.3 1301.5,804.1 1304.1,805.9 1306.7,806.9 1309.3,807.9 1311.9,807.3 1314.5,805.8 1317.1,806.0 1319.7,806.4 1322.3,806.8 1324.9,807.8 1327.5,808.7 1330.1,807.7 1332.7,806.2 1335.3,807.0 1337.9,809.2 1340.5,810.5 1343.1,809.8 1345.7,809.0 1348.3,809.8 1350.9,809.7 1353.5,808.7 1356.1,808.9 1358.7,809.6 1361.3,809.7 1363.9,809.5 1366.5,809.5 1369.1,809.4 1371.7,809.9 1374.3,811.5 1376.9,810.4 1379.5,808.5 1382.1,809.9 1384.7,811.5 1387.3,811.0 1389.9,809.4 1392.5,809.2 1395.1,811.4 1397.7,810.9 1400.3,808.8 1402.9,810.5 1405.5,812.8 1408.1,811.7 1410.7,809.7 1413.3,810.2 1415.9,812.5 1418.5,814.0 1421.1,813.3 1423.7,812.3 1426.3,811.7 1428.9,811.0 1431.5,810.0 1434.1,809.1 1436.7,809.3 1439.3,811.2 1441.9,812.9 1444.5,813.2 1447.1,813.6 1449.7,813.5 1452.3,812.3 1454.9,812.7 1457.5,814.7 1460.1,815.1 1462.7,815.4 1465.3,816.3 1467.9,815.2 1470.5,813.5 1473.1,813.1 1475.7,814.3 1478.3,814.4 1480.9,811.5 1483.5,809.6 1486.1,810.9 1488.7,811.8 1491.3,812.3 1493.9,813.4 1496.5,813.6 1499.1,812.8 1501.7,813.6 1504.3,815.7 1506.9,816.6 1509.5,815.3 1512.1,813.8 1514.7,813.1 1517.3,811.1 1519.9,811.0 1522.5,814.0 1525.1,814.9 1527.7,814.6 1530.3,815.5 1532.9,815.4 1535.5,814.1 1538.1,813.5 1540.7,814.0 1543.3,814.1 1545.9,812.7 1548.5,812.8 1551.1,814.4 1553.7,813.1 1556.3,812.2 1558.9,813.2 1561.5,813.5 1564.1,814.7 1566.7,816.5 1569.3,815.5 1571.9,813.4 1574.5,813.0 1577.1,813.8 1579.7,813.8 1582.3,812.2 1584.9,810.7 1587.5,811.0 1590.1,812.9 1592.7,814.1 1595.3,814.5 1597.9,813.7 1600.5,812.1 1603.1,811.5 1605.7,812.4 1608.3,814.3 1610.9,814.0 1613.5,812.4 1616.1,813.1 1618.7,813.7 1621.3,813.8 1623.9,813.7 1626.5,812.8 1629.1,812.2 1631.7,812.0 1634.3,811.7 1636.9,812.4 1639.5,814.3 1642.1,814.4 1644.7,812.5 1647.3,812.6 1649.9,814.9 1652.5,814.7 1655.1,813.9 1657.7,815.1 1660.3,815.4 1662.9,812.7 1665.5,810.6 1668.1,811.8 1670.7,812.9 1673.3,813.6 1675.9,814.4 1678.5,813.9 1681.1,813.1 1683.7,813.2 1686.3,813.5 1688.9,813.6 1691.5,814.1 1694.1,814.1 1696.7,813.9 1699.3,813.1 1701.9,811.7 1704.5,812.3 1707.1,813.3 1709.7,813.9 1712.3,815.1 1714.9,814.7 1717.5,813.9 1720.1,814.3 1722.7,814.2 1725.3,814.7 1727.9,814.6 1730.5,812.6 1733.1,812.1 1735.7,813.0 1738.3,812.5 1740.9,812.1 1743.5,813.5 1746.1,814.3 1748.7,814.1 1751.3,814.5 1753.9,814.2 1756.5,813.4 1759.1,813.4 1761.7,813.1 1764.3,812.5 1766.9,813.2 1769.5,813.2 1772.1,811.4 1774.7,812.0 1777.3,813.9 1779.9,813.4 1782.5,813.4 1785.1,814.0 1787.7,813.2 1790.3,813.2 1792.9,813.8 1795.5,813.2 1798.1,813.0 1799.0,814.1" fill="none" stroke="#636363" stroke-width="7.9" stroke-linejoin="round" stroke-linecap="butt"/>
<path d="M183.5,976.9 186.1,976.9 188.7,976.8 191.3,976.7 193.9,976.8 196.5,977.0 199.1,977.2 201.7,977.2 204.3,977.1 206.9,977.0 209.5,976.9 212.1,976.9 214.7,976.9 217.3,976.8 219.9,976.9 222.5,977.0 225.1,977.0 227.7,977.1 230.3,977.2 232.9,977.1 235.5,976.9 238.1,976.9 240.7,976.8 243.3,976.8 245.9,977.0 248.5,977.1 251.1,977.0 253.7,976.9 256.3,977.1 258.9,977.1 261.5,976.9 264.1,976.9 266.7,977.0 269.3,976.8 271.9,976.7 274.5,977.0 277.1,977.0 279.7,976.6 282.3,976.4 284.9,976.6 287.5,976.7 290.1,976.6 292.7,976.7 295.3,976.7 297.9,976.7 300.5,976.7 303.1,976.8 305.7,976.8 308.3,976.6 310.9,976.5 313.5,976.6 316.1,976.5 318.7,976.3 321.3,976.4 323.9,976.5 326.5,976.4 329.1,976.3 331.7,976.3 334.3,976.3 336.9,976.1 339.5,976.0 342.1,976.2 344.7,976.2 347.3,976.0 349.9,976.1 352.5,976.0 355.1,976.0 357.7,976.1 360.3,976.2 362.9,976.0 365.5,976.0 368.1,975.9 370.7,975.4 373.3,975.3 375.9,975.3 378.5,975.0 381.1,975.0 383.7,975.2 386.3,975.1 388.9,974.8 391.5,974.5 394.1,974.7 396.7,974.5 399.3,974.3 401.9,973.9 404.5,973.4 407.1,973.1 409.7,973.1 412.3,973.1 414.9,972.6 417.5,972.2 420.1,971.9 422.7,971.6 425.3,971.2 427.9,970.5 430.5,969.6 433.1,968.7 435.7,968.2 438.3,967.5 440.9,966.3 443.5,964.6 446.1,962.5 448.7,960.0 451.3,956.7 453.9,952.8 456.5,948.3 459.1,943.4 461.7,937.6 464.3,930.8 466.9,923.1 469.5,914.6 472.1,905.3 474.7,895.4 477.3,884.9 479.9,874.6 482.5,865.3 485.1,858.2 487.7,853.7 490.3,856.2 492.9,862.7 495.5,871.1 498.1,880.7 500.7,891.1 503.3,901.2 505.9,910.5 508.5,919.2 511.1,926.9 513.7,933.9 516.3,940.4 518.9,946.1 521.5,951.0 524.1,955.2 526.7,958.6 529.3,961.4 531.9,964.0 534.5,965.8 537.1,966.8 539.7,967.8 542.3,968.8 544.9,969.7 547.5,970.4 550.1,970.8 552.7,971.0 555.3,971.6 557.9,972.3 560.5,972.5 563.1,972.6 565.7,972.8 568.3,973.1 570.9,973.5 573.5,973.9 576.1,974.1 578.7,974.4 581.3,974.4 583.9,974.3 586.5,974.7 589.1,975.0 591.7,974.9 594.3,975.0 596.9,975.3 599.5,975.4 602.1,975.5 604.7,975.5 607.3,975.4 609.9,975.5 612.5,975.5 615.1,975.5 617.7,975.7 620.3,976.0 622.9,975.9 625.5,975.7 628.1,975.9 630.7,976.3 633.3,976.3 635.9,976.3 638.5,976.4 641.1,976.3 643.7,976.1 646.3,976.3 648.9,976.6 651.5,976.7 654.1,976.6 656.7,976.4 659.3,976.3 661.9,976.3 664.5,976.4 667.1,976.5 669.7,976.5 672.3,976.4 674.9,976.4 677.5,976.4 680.1,976.4 682.7,976.4 685.3,976.4 687.9,976.5 690.5,976.7 693.1,976.7 695.7,976.6 698.3,976.7 700.9,976.9 703.5,977.0 706.1,976.8 708.7,976.7 711.3,976.7 713.9,976.8 716.5,976.9 719.1,976.9 721.7,976.8 724.3,976.9 726.9,976.9 729.5,976.8 732.1,976.8 734.7,976.8 737.3,976.7 739.9,976.7 742.5,977.0 745.1,977.2 747.7,977.1 750.3,976.9 752.9,976.9 755.5,977.1 758.1,977.2 760.7,977.1 763.3,976.9 765.9,976.8 768.5,976.8 771.1,976.7 773.7,976.7 776.3,976.6 778.9,976.5 781.5,976.6 784.1,976.7 786.7,976.7 789.3,976.7 791.9,976.6 794.5,976.7 797.1,976.7 799.7,976.6 802.3,976.7 804.9,976.9 807.5,976.7 810.1,976.5 812.7,976.5 815.3,976.6 817.9,976.6 820.5,976.7 823.1,976.7 825.7,976.5 828.3,976.3 830.9,976.1 833.5,976.0 836.1,976.1 838.7,976.3 841.3,976.3 843.9,976.3 846.5,976.2 849.1,976.1 851.7,976.0 854.3,975.7 856.9,975.4 859.5,975.4 862.1,975.4 864.7,975.1 867.3,974.8 869.9,974.6 872.5,974.4 875.1,973.8 877.7,973.2 880.3,972.5 882.9,971.4 885.5,969.6 888.1,967.3 890.7,964.7 893.3,961.5 895.9,957.9 898.5,954.1 901.1,949.6 903.7,944.8 906.3,939.9 908.9,934.6 911.5,929.8 914.1,926.2 916.7,926.8 919.3,928.9 921.9,931.6 924.5,934.5 927.1,937.6 929.7,940.6 932.3,945.9 934.9,951.5 937.5,956.6 940.1,961.2 942.7,965.0 945.3,968.2 947.9,970.5 950.5,972.2 953.1,973.2 955.7,973.7 958.3,974.1 960.9,974.4 963.5,974.6 966.1,974.9 968.7,975.0 971.3,975.0 973.9,975.3 976.5,975.6 979.1,975.6 981.7,975.8 984.3,975.8 986.9,975.7 989.5,975.8 992.1,975.8 994.7,975.6 997.3,975.6 999.9,975.8 1002.5,975.9 1005.1,976.1 1007.7,976.1 1010.3,975.9 1012.9,976.0 1015.5,976.3 1018.1,976.4 1020.7,976.2 1023.3,976.0 1025.9,975.8 1028.5,976.0 1031.1,976.2 1033.7,976.1 1036.3,975.9 1038.9,975.8 1041.5,975.8 1044.1,975.8 1046.7,975.8 1049.3,976.0 1051.9,975.9 1054.5,975.8 1057.1,975.6 1059.7,975.7 1062.3,975.8 1064.9,975.6 1067.5,975.4 1070.1,975.5 1072.7,975.7 1075.3,975.7 1077.9,975.3 1080.5,975.0 1083.1,975.0 1085.7,974.9 1088.3,974.6 1090.9,974.3 1093.5,974.2 1096.1,974.3 1098.7,974.2 1101.3,974.2 1103.9,974.3 1106.5,974.1 1109.1,973.8 1111.7,973.5 1114.3,973.2 1116.9,973.0 1119.5,972.8 1122.1,972.6 1124.7,972.3 1127.3,972.0 1129.9,971.5 1132.5,970.9 1135.1,970.6 1137.7,970.2 1140.3,969.7 1142.9,969.0 1145.5,968.4 1148.1,967.5 1150.7,966.6 1153.3,965.6 1155.9,964.3 1158.5,962.8 1161.1,960.8 1163.7,958.3 1166.3,955.0 1168.9,951.1 1171.5,946.7 1174.1,941.6 1176.7,935.9 1179.3,929.5 1181.9,922.3 1184.5,914.1 1187.1,905.1 1189.7,895.2 1192.3,884.7 1194.9,874.0 1197.5,863.0 1200.1,851.9 1202.7,841.4 1205.3,832.4 1207.9,825.6 1210.5,821.8 1213.1,822.9 1215.7,827.9 1218.3,835.3 1220.9,844.5 1223.5,855.1 1226.1,866.3 1228.7,877.1 1231.3,888.0 1233.9,898.6 1236.5,908.2 1239.1,916.8 1241.7,924.6 1244.3,931.8 1246.9,938.2 1249.5,943.6 1252.1,948.5 1254.7,952.8 1257.3,956.3 1259.9,959.0 1262.5,961.3 1265.1,963.1 1267.7,964.6 1270.3,966.0 1272.9,967.2 1275.5,968.1 1278.1,968.7 1280.7,969.3 1283.3,970.0 1285.9,970.6 1288.5,971.1 1291.1,971.4 1293.7,971.7 1296.3,972.1 1298.9,972.5 1301.5,972.6 1304.1,972.8 1306.7,973.1 1309.3,973.4 1311.9,973.6 1314.5,973.9 1317.1,974.2 1319.7,974.3 1322.3,974.6 1324.9,974.7 1327.5,974.7 1330.1,974.8 1332.7,974.9 1335.3,974.9 1337.9,975.1 1340.5,975.2 1343.1,975.3 1345.7,975.4 1348.3,975.6 1350.9,975.8 1353.5,975.8 1356.1,975.9 1358.7,976.0 1361.3,976.1 1363.9,976.0 1366.5,976.2 1369.1,976.3 1371.7,976.4 1374.3,976.4 1376.9,976.5 1379.5,976.7 1382.1,976.8 1384.7,976.6 1387.3,976.5 1389.9,976.7 1392.5,976.6 1395.1,976.3 1397.7,976.3 1400.3,976.7 1402.9,977.0 1405.5,977.0 1408.1,976.9 1410.7,977.0 1413.3,976.9 1415.9,976.8 1418.5,976.9 1421.1,977.0 1423.7,977.0 1426.3,976.9 1428.9,976.9 1431.5,977.1 1434.1,977.2 1436.7,977.1 1439.3,977.1 1441.9,977.1 1444.5,977.1 1447.1,977.0 1449.7,977.2 1452.3,977.3 1454.9,977.0 1457.5,976.9 1460.1,977.0 1462.7,977.2 1465.3,977.3 1467.9,977.4 1470.5,977.6 1473.1,977.5 1475.7,977.4 1478.3,977.2 1480.9,977.0 1483.5,977.1 1486.1,977.2 1488.7,977.4 1491.3,977.5 1493.9,977.6 1496.5,977.6 1499.1,977.5 1501.7,977.5 1504.3,977.5 1506.9,977.5 1509.5,977.5 1512.1,977.5 1514.7,977.5 1517.3,977.6 1519.9,977.7 1522.5,977.6 1525.1,977.8 1527.7,978.0 1530.3,977.9 1532.9,977.8 1535.5,977.7 1538.1,977.6 1540.7,977.7 1543.3,977.8 1545.9,977.8 1548.5,977.9 1551.1,977.9 1553.7,977.8 1556.3,977.7 1558.9,977.7 1561.5,977.7 1564.1,977.8 1566.7,977.7 1569.3,977.6 1571.9,977.6 1574.5,977.7 1577.1,977.8 1579.7,977.6 1582.3,977.4 1584.9,977.6 1587.5,977.9 1590.1,977.8 1592.7,977.7 1595.3,977.8 1597.9,978.0 1600.5,978.1 1603.1,978.0 1605.7,977.8 1608.3,977.7 1610.9,977.8 1613.5,977.9 1616.1,977.9 1618.7,977.8 1621.3,977.7 1623.9,977.8 1626.5,977.9 1629.1,977.9 1631.7,977.8 1634.3,977.8 1636.9,977.9 1639.5,977.9 1642.1,977.9 1644.7,977.8 1647.3,977.8 1649.9,977.9 1652.5,977.8 1655.1,977.8 1657.7,977.9 1660.3,977.9 1662.9,977.8 1665.5,977.6 1668.1,977.6 1670.7,977.8 1673.3,977.6 1675.9,977.5 1678.5,977.7 1681.1,977.7 1683.7,977.9 1686.3,978.1 1688.9,978.0 1691.5,978.0 1694.1,978.0 1696.7,978.0 1699.3,978.0 1701.9,978.1 1704.5,978.1 1707.1,978.0 1709.7,977.9 1712.3,977.8 1714.9,977.9 1717.5,978.0 1720.1,978.1 1722.7,978.2 1725.3,978.1 1727.9,977.8 1730.5,977.8 1733.1,977.8 1735.7,977.9 1738.3,978.0 1740.9,978.0 1743.5,977.9 1746.1,977.7 1748.7,977.8 1751.3,977.9 1753.9,977.9 1756.5,977.9 1759.1,977.9 1761.7,977.9 1764.3,978.0 1766.9,978.1 1769.5,978.1 1772.1,978.1 1774.7,978.2 1777.3,978.1 1779.9,978.0 1782.5,977.9 1785.1,978.0 1787.7,978.0 1790.3,977.6 1792.9,977.5 1795.5,977.8 1798.1,978.0 1799.0,978.0" fill="none" stroke="#9E480E" stroke-width="7.9" stroke-linejoin="round" stroke-linecap="butt"/>
<path d="M183.5,1139.5 186.1,1139.7 188.7,1140.8 191.3,1141.4 193.9,1140.5 196.5,1139.7 199.1,1140.0 201.7,1140.3 204.3,1140.8 206.9,1141.2 209.5,1141.4 212.1,1140.7 214.7,1139.5 217.3,1139.3 219.9,1140.0 222.5,1141.0 225.1,1141.4 227.7,1140.8 230.3,1140.3 232.9,1140.2 235.5,1140.0 238.1,1140.1 240.7,1140.6 243.3,1141.3 245.9,1141.5 248.5,1140.6 251.1,1140.1 253.7,1140.5 256.3,1140.6 258.9,1140.0 261.5,1140.2 264.1,1140.8 266.7,1140.6 269.3,1140.9 271.9,1140.8 274.5,1140.4 277.1,1141.1 279.7,1141.1 282.3,1139.9 284.9,1139.2 287.5,1139.5 290.1,1139.7 292.7,1139.3 295.3,1140.0 297.9,1140.3 300.5,1139.6 303.1,1139.5 305.7,1139.6 308.3,1140.0 310.9,1140.2 313.5,1140.0 316.1,1140.6 318.7,1140.7 321.3,1140.1 323.9,1139.9 326.5,1139.6 329.1,1139.7 331.7,1140.5 334.3,1140.8 336.9,1140.0 339.5,1139.4 342.1,1139.4 344.7,1139.0 347.3,1139.2 349.9,1139.8 352.5,1139.2 355.1,1138.4 357.7,1138.6 360.3,1139.9 362.9,1141.5 365.5,1141.5 368.1,1140.1 370.7,1138.9 373.3,1138.1 375.9,1137.8 378.5,1138.2 381.1,1138.6 383.7,1138.8 386.3,1137.6 388.9,1136.1 391.5,1135.2 394.1,1135.4 396.7,1136.5 399.3,1136.2 401.9,1134.9 404.5,1134.4 407.1,1134.7 409.7,1134.5 412.3,1134.1 414.9,1133.3 417.5,1131.8 420.1,1130.7 422.7,1130.5 425.3,1129.8 427.9,1128.5 430.5,1127.2 433.1,1124.7 435.7,1121.4 438.3,1117.5 440.9,1113.2 443.5,1109.5 446.1,1105.3 448.7,1100.3 451.3,1093.8 453.9,1085.8 456.5,1078.6 459.1,1071.2 461.7,1062.1 464.3,1053.1 466.9,1044.9 469.5,1038.0 472.1,1031.8 474.7,1028.7 477.3,1029.0 479.9,1032.8 482.5,1039.1 485.1,1044.7 487.7,1051.2 490.3,1061.4 492.9,1072.1 495.5,1082.9 498.1,1091.4 500.7,1098.3 503.3,1106.0 505.9,1112.7 508.5,1117.5 511.1,1121.9 513.7,1125.5 516.3,1127.7 518.9,1129.6 521.5,1130.4 524.1,1131.1 526.7,1132.8 529.3,1133.5 531.9,1133.8 534.5,1135.3 537.1,1136.1 539.7,1135.2 542.3,1135.1 544.9,1135.5 547.5,1135.1 550.1,1135.5 552.7,1136.9 555.3,1137.8 557.9,1138.2 560.5,1138.6 563.1,1138.6 565.7,1138.0 568.3,1137.8 570.9,1138.0 573.5,1138.5 576.1,1139.4 578.7,1139.0 581.3,1138.1 583.9,1138.4 586.5,1138.3 589.1,1138.6 591.7,1140.1 594.3,1140.8 596.9,1140.7 599.5,1140.7 602.1,1140.5 604.7,1139.7 607.3,1139.7 609.9,1139.4 612.5,1138.8 615.1,1139.2 617.7,1140.8 620.3,1141.6 622.9,1140.8 625.5,1140.0 628.1,1139.7 630.7,1139.5 633.3,1140.1 635.9,1141.4 638.5,1141.8 641.1,1141.3 643.7,1140.9 646.3,1140.6 648.9,1140.5 651.5,1140.5 654.1,1140.4 656.7,1140.5 659.3,1140.8 661.9,1140.7 664.5,1140.5 667.1,1140.9 669.7,1141.6 672.3,1141.3 674.9,1140.1 677.5,1140.0 680.1,1140.7 682.7,1140.7 685.3,1140.6 687.9,1141.1 690.5,1141.6 693.1,1141.5 695.7,1141.3 698.3,1140.7 700.9,1140.5 703.5,1140.8 706.1,1140.6 708.7,1140.1 711.3,1139.8 713.9,1140.1 716.5,1140.4 719.1,1140.9 721.7,1141.4 724.3,1141.6 726.9,1141.6 729.5,1141.3 732.1,1141.2 734.7,1141.4 737.3,1141.6 739.9,1141.3 742.5,1140.8 745.1,1140.8 747.7,1141.3 750.3,1141.7 752.9,1141.3 755.5,1140.7 758.1,1140.9 760.7,1141.2 763.3,1141.2 765.9,1141.4 768.5,1140.7 771.1,1140.0 773.7,1140.6 776.3,1140.8 778.9,1140.5 781.5,1139.9 784.1,1139.7 786.7,1140.4 789.3,1140.1 791.9,1139.6 794.5,1139.6 797.1,1139.5 799.7,1139.8 802.3,1139.4 804.9,1138.5 807.5,1138.6 810.1,1140.1 812.7,1140.7 815.3,1140.1 817.9,1140.3 820.5,1140.8 823.1,1140.6 825.7,1140.6 828.3,1140.5 830.9,1140.2 833.5,1140.0 836.1,1139.9 838.7,1139.3 841.3,1138.6 843.9,1137.5 846.5,1136.5 849.1,1136.6 851.7,1137.3 854.3,1137.5 856.9,1136.1 859.5,1134.8 862.1,1135.1 864.7,1134.7 867.3,1132.7 869.9,1130.3 872.5,1127.5 875.1,1124.5 877.7,1120.8 880.3,1115.6 882.9,1109.8 885.5,1104.2 888.1,1098.5 890.7,1092.4 893.3,1086.2 895.9,1081.1 898.5,1076.1 901.1,1071.9 903.7,1073.8 906.3,1078.4 908.9,1084.0 911.5,1090.8 914.1,1097.2 916.7,1103.3 919.3,1109.7 921.9,1114.5 924.5,1117.9 927.1,1121.9 929.7,1126.6 932.3,1130.1 934.9,1132.2 937.5,1134.0 940.1,1136.0 942.7,1137.5 945.3,1138.0 947.9,1137.8 950.5,1137.7 953.1,1137.6 955.7,1137.7 958.3,1138.0 960.9,1138.3 963.5,1138.6 966.1,1138.7 968.7,1138.9 971.3,1139.0 973.9,1138.7 976.5,1138.6 979.1,1139.0 981.7,1139.8 984.3,1140.3 986.9,1141.0 989.5,1140.9 992.1,1139.9 994.7,1139.4 997.3,1139.0 999.9,1138.8 1002.5,1139.1 1005.1,1139.9 1007.7,1140.9 1010.3,1141.1 1012.9,1140.6 1015.5,1140.5 1018.1,1139.9 1020.7,1139.6 1023.3,1140.1 1025.9,1139.7 1028.5,1139.2 1031.1,1139.2 1033.7,1138.9 1036.3,1139.2 1038.9,1139.5 1041.5,1139.0 1044.1,1138.3 1046.7,1137.7 1049.3,1137.9 1051.9,1139.1 1054.5,1139.5 1057.1,1139.6 1059.7,1139.7 1062.3,1139.1 1064.9,1138.7 1067.5,1138.5 1070.1,1138.6 1072.7,1138.5 1075.3,1138.2 1077.9,1138.7 1080.5,1138.6 1083.1,1138.0 1085.7,1137.9 1088.3,1137.6 1090.9,1136.6 1093.5,1136.4 1096.1,1137.0 1098.7,1136.8 1101.3,1136.5 1103.9,1136.9 1106.5,1136.8 1109.1,1134.9 1111.7,1133.6 1114.3,1133.6 1116.9,1133.5 1119.5,1133.2 1122.1,1133.0 1124.7,1133.3 1127.3,1133.5 1129.9,1131.7 1132.5,1129.5 1135.1,1128.4 1137.7,1127.4 1140.3,1126.4 1142.9,1125.7 1145.5,1124.4 1148.1,1122.5 1150.7,1119.5 1153.3,1115.3 1155.9,1110.7 1158.5,1106.0 1161.1,1100.7 1163.7,1093.9 1166.3,1087.4 1168.9,1081.7 1171.5,1073.2 1174.1,1062.0 1176.7,1050.9 1179.3,1040.2 1181.9,1029.4 1184.5,1017.0 1187.1,1005.4 1189.7,997.6 1192.3,990.5 1194.9,983.3 1197.5,982.6 1200.1,985.5 1202.7,990.1 1205.3,997.0 1207.9,1003.2 1210.5,1009.9 1213.1,1021.4 1215.7,1034.8 1218.3,1049.6 1220.9,1064.4 1223.5,1076.6 1226.1,1087.1 1228.7,1096.7 1231.3,1104.8 1233.9,1111.3 1236.5,1116.5 1239.1,1119.3 1241.7,1121.1 1244.3,1123.5 1246.9,1126.0 1249.5,1127.9 1252.1,1128.8 1254.7,1130.6 1257.3,1132.4 1259.9,1132.5 1262.5,1132.5 1265.1,1133.9 1267.7,1135.1 1270.3,1135.0 1272.9,1134.7 1275.5,1135.5 1278.1,1136.5 1280.7,1136.6 1283.3,1136.5 1285.9,1136.5 1288.5,1136.9 1291.1,1138.0 1293.7,1139.0 1296.3,1138.3 1298.9,1137.4 1301.5,1137.6 1304.1,1138.4 1306.7,1138.7 1309.3,1138.0 1311.9,1138.4 1314.5,1139.6 1317.1,1139.5 1319.7,1139.0 1322.3,1139.1 1324.9,1139.1 1327.5,1138.7 1330.1,1138.4 1332.7,1138.2 1335.3,1138.5 1337.9,1139.7 1340.5,1140.2 1343.1,1140.0 1345.7,1139.8 1348.3,1139.5 1350.9,1140.0 1353.5,1140.7 1356.1,1140.8 1358.7,1140.2 1361.3,1140.1 1363.9,1140.5 1366.5,1140.8 1369.1,1140.9 1371.7,1141.2 1374.3,1141.5 1376.9,1141.4 1379.5,1141.2 1382.1,1140.6 1384.7,1140.3 1387.3,1140.9 1389.9,1141.0 1392.5,1140.6 1395.1,1140.9 1397.7,1142.2 1400.3,1142.3 1402.9,1141.6 1405.5,1141.8 1408.1,1142.6 1410.7,1142.9 1413.3,1142.4 1415.9,1141.8 1418.5,1141.2 1421.1,1141.1 1423.7,1141.3 1426.3,1141.0 1428.9,1141.0 1431.5,1141.3 1434.1,1141.0 1436.7,1140.8 1439.3,1141.7 1441.9,1142.8 1444.5,1142.7 1447.1,1141.6 1449.7,1140.7 1452.3,1140.6 1454.9,1141.6 1457.5,1142.5 1460.1,1142.5 1462.7,1141.8 1465.3,1141.5 1467.9,1142.2 1470.5,1142.7 1473.1,1142.4 1475.7,1142.1 1478.3,1141.8 1480.9,1142.1 1483.5,1142.5 1486.1,1142.4 1488.7,1142.5 1491.3,1142.2 1493.9,1142.1 1496.5,1142.7 1499.1,1142.5 1501.7,1141.9 1504.3,1141.8 1506.9,1142.1 1509.5,1142.1 1512.1,1142.3 1514.7,1142.3 1517.3,1142.0 1519.9,1142.6 1522.5,1142.6 1525.1,1141.7 1527.7,1141.6 1530.3,1141.3 1532.9,1141.1 1535.5,1142.0 1538.1,1142.4 1540.7,1142.2 1543.3,1142.3 1545.9,1141.8 1548.5,1141.1 1551.1,1141.9 1553.7,1143.2 1556.3,1143.0 1558.9,1141.6 1561.5,1141.2 1564.1,1142.0 1566.7,1142.3 1569.3,1142.2 1571.9,1142.3 1574.5,1142.8 1577.1,1142.8 1579.7,1142.3 1582.3,1142.3 1584.9,1142.5 1587.5,1142.8 1590.1,1142.8 1592.7,1142.9 1595.3,1142.9 1597.9,1142.5 1600.5,1142.4 1603.1,1142.7 1605.7,1142.1 1608.3,1141.4 1610.9,1141.6 1613.5,1142.1 1616.1,1142.1 1618.7,1142.2 1621.3,1142.6 1623.9,1142.7 1626.5,1142.3 1629.1,1142.2 1631.7,1142.7 1634.3,1142.7 1636.9,1141.9 1639.5,1141.5 1642.1,1141.5 1644.7,1142.0 1647.3,1143.3 1649.9,1143.9 1652.5,1142.8 1655.1,1141.7 1657.7,1141.9 1660.3,1143.0 1662.9,1143.6 1665.5,1143.6 1668.1,1143.1 1670.7,1142.3 1673.3,1142.0 1675.9,1142.6 1678.5,1142.9 1681.1,1142.3 1683.7,1142.3 1686.3,1142.6 1688.9,1142.6 1691.5,1142.8 1694.1,1142.6 1696.7,1142.6 1699.3,1142.9 1701.9,1143.1 1704.5,1142.8 1707.1,1142.7 1709.7,1142.8 1712.3,1142.2 1714.9,1141.7 1717.5,1141.7 1720.1,1142.1 1722.7,1141.5 1725.3,1141.0 1727.9,1142.9 1730.5,1144.2 1733.1,1143.1 1735.7,1142.1 1738.3,1141.8 1740.9,1141.7 1743.5,1142.3 1746.1,1142.5 1748.7,1141.5 1751.3,1141.6 1753.9,1142.1 1756.5,1142.4 1759.1,1143.2 1761.7,1143.0 1764.3,1142.6 1766.9,1142.5 1769.5,1142.3 1772.1,1142.6 1774.7,1143.0 1777.3,1142.4 1779.9,1142.3 1782.5,1142.6 1785.1,1142.8 1787.7,1143.4 1790.3,1143.1 1792.9,1143.1 1795.5,1143.3 1798.1,1143.0 1799.0,1143.2" fill="none" stroke="#264478" stroke-width="7.9" stroke-linejoin="round" stroke-linecap="butt"/>
<path d="M183.5,1470.2 186.1,1470.2 188.7,1470.1 191.3,1470.1 193.9,1470.2 196.5,1470.2 199.1,1470.3 201.7,1470.3 204.3,1470.2 206.9,1470.2 209.5,1470.1 212.1,1470.1 214.7,1470.2 217.3,1470.2 219.9,1470.2 222.5,1470.0 225.1,1470.0 227.7,1470.0 230.3,1470.1 232.9,1470.2 235.5,1470.2 238.1,1470.2 240.7,1470.1 243.3,1470.2 245.9,1470.2 248.5,1470.2 251.1,1470.2 253.7,1470.3 256.3,1470.2 258.9,1470.1 261.5,1470.1 264.1,1470.1 266.7,1470.1 269.3,1470.2 271.9,1470.1 274.5,1470.1 277.1,1470.0 279.7,1470.1 282.3,1470.1 284.9,1470.1 287.5,1470.1 290.1,1470.1 292.7,1470.0 295.3,1470.1 297.9,1470.1 300.5,1470.0 303.1,1470.0 305.7,1470.0 308.3,1470.0 310.9,1470.0 313.5,1470.0 316.1,1469.9 318.7,1470.0 321.3,1470.1 323.9,1470.1 326.5,1470.1 329.1,1470.0 331.7,1469.9 334.3,1469.9 336.9,1469.9 339.5,1469.9 342.1,1469.8 344.7,1469.7 347.3,1469.7 349.9,1469.8 352.5,1469.8 355.1,1469.6 357.7,1469.6 360.3,1469.7 362.9,1469.8 365.5,1469.7 368.1,1469.4 370.7,1469.4 373.3,1469.5 375.9,1469.4 378.5,1469.4 381.1,1469.4 383.7,1469.4 386.3,1469.3 388.9,1469.2 391.5,1469.2 394.1,1469.2 396.7,1469.1 399.3,1468.9 401.9,1468.7 404.5,1468.6 407.1,1468.5 409.7,1468.4 412.3,1468.1 414.9,1467.8 417.5,1467.6 420.1,1467.4 422.7,1467.0 425.3,1466.7 427.9,1466.3 430.5,1465.7 433.1,1464.9 435.7,1463.8 438.3,1462.1 440.9,1459.8 443.5,1456.4 446.1,1451.9 448.7,1446.2 451.3,1438.9 453.9,1430.4 456.5,1420.7 459.1,1409.9 461.7,1398.6 464.3,1387.8 466.9,1378.5 469.5,1372.0 472.1,1371.3 474.7,1377.1 477.3,1386.1 479.9,1396.9 482.5,1408.2 485.1,1419.1 487.7,1429.1 490.3,1437.7 492.9,1445.0 495.5,1451.1 498.1,1455.9 500.7,1459.4 503.3,1461.9 505.9,1463.6 508.5,1464.8 511.1,1465.6 513.7,1466.3 516.3,1466.8 518.9,1467.2 521.5,1467.5 524.1,1467.8 526.7,1468.1 529.3,1468.3 531.9,1468.4 534.5,1468.5 537.1,1468.6 539.7,1468.8 542.3,1468.9 544.9,1469.0 547.5,1469.2 550.1,1469.2 552.7,1469.1 555.3,1469.2 557.9,1469.4 560.5,1469.5 563.1,1469.5 565.7,1469.6 568.3,1469.6 570.9,1469.7 573.5,1469.7 576.1,1469.9 578.7,1469.8 581.3,1469.8 583.9,1469.8 586.5,1469.8 589.1,1469.8 591.7,1469.7 594.3,1469.8 596.9,1470.0 599.5,1469.9 602.1,1470.0 604.7,1470.1 607.3,1470.1 609.9,1470.1 612.5,1470.0 615.1,1470.0 617.7,1470.1 620.3,1470.2 622.9,1470.1 625.5,1470.0 628.1,1470.1 630.7,1470.1 633.3,1470.1 635.9,1470.1 638.5,1470.2 641.1,1470.2 643.7,1470.2 646.3,1470.2 648.9,1470.3 651.5,1470.2 654.1,1470.3 656.7,1470.3 659.3,1470.3 661.9,1470.3 664.5,1470.4 667.1,1470.3 669.7,1470.3 672.3,1470.3 674.9,1470.3 677.5,1470.3 680.1,1470.3 682.7,1470.3 685.3,1470.1 687.9,1470.1 690.5,1470.2 693.1,1470.2 695.7,1470.1 698.3,1470.2 700.9,1470.3 703.5,1470.4 706.1,1470.4 708.7,1470.3 711.3,1470.2 713.9,1470.2 716.5,1470.3 719.1,1470.4 721.7,1470.3 724.3,1470.4 726.9,1470.4 729.5,1470.2 732.1,1470.2 734.7,1470.3 737.3,1470.3 739.9,1470.2 742.5,1470.3 745.1,1470.3 747.7,1470.3 750.3,1470.3 752.9,1470.3 755.5,1470.4 758.1,1470.3 760.7,1470.2 763.3,1470.2 765.9,1470.2 768.5,1470.2 771.1,1470.2 773.7,1470.2 776.3,1470.1 778.9,1470.0 781.5,1470.0 784.1,1470.0 786.7,1470.1 789.3,1470.1 791.9,1470.0 794.5,1470.0 797.1,1470.1 799.7,1470.1 802.3,1470.0 804.9,1470.0 807.5,1470.0 810.1,1470.0 812.7,1469.9 815.3,1469.8 817.9,1469.7 820.5,1469.6 823.1,1469.4 825.7,1469.4 828.3,1469.5 830.9,1469.4 833.5,1469.3 836.1,1469.2 838.7,1469.1 841.3,1469.0 843.9,1468.9 846.5,1468.8 849.1,1468.6 851.7,1468.3 854.3,1468.1 856.9,1467.7 859.5,1467.1 862.1,1466.6 864.7,1465.8 867.3,1464.5 869.9,1462.6 872.5,1459.8 875.1,1455.5 877.7,1449.8 880.3,1442.5 882.9,1433.6 885.5,1423.3 888.1,1412.2 890.7,1401.2 893.3,1391.4 895.9,1384.0 898.5,1382.4 901.1,1385.7 903.7,1390.9 906.3,1396.7 908.9,1402.7 911.5,1409.5 914.1,1419.6 916.7,1431.1 919.3,1441.8 921.9,1450.7 924.5,1457.5 927.1,1461.9 929.7,1464.4 932.3,1465.9 934.9,1466.9 937.5,1467.4 940.1,1467.9 942.7,1468.2 945.3,1468.4 947.9,1468.6 950.5,1468.8 953.1,1469.0 955.7,1469.0 958.3,1469.0 960.9,1469.3 963.5,1469.4 966.1,1469.4 968.7,1469.5 971.3,1469.6 973.9,1469.5 976.5,1469.7 979.1,1469.8 981.7,1469.7 984.3,1469.8 986.9,1469.9 989.5,1469.9 992.1,1469.9 994.7,1469.9 997.3,1469.8 999.9,1469.9 1002.5,1469.9 1005.1,1470.0 1007.7,1469.9 1010.3,1469.9 1012.9,1469.8 1015.5,1469.9 1018.1,1470.0 1020.7,1469.9 1023.3,1469.9 1025.9,1469.9 1028.5,1470.1 1031.1,1470.1 1033.7,1469.9 1036.3,1469.8 1038.9,1469.9 1041.5,1470.0 1044.1,1470.0 1046.7,1469.9 1049.3,1469.9 1051.9,1469.8 1054.5,1469.7 1057.1,1469.8 1059.7,1469.8 1062.3,1469.7 1064.9,1469.8 1067.5,1469.8 1070.1,1469.6 1072.7,1469.5 1075.3,1469.5 1077.9,1469.5 1080.5,1469.4 1083.1,1469.4 1085.7,1469.5 1088.3,1469.4 1090.9,1469.1 1093.5,1469.1 1096.1,1469.1 1098.7,1469.1 1101.3,1469.0 1103.9,1468.8 1106.5,1468.6 1109.1,1468.5 1111.7,1468.2 1114.3,1468.1 1116.9,1468.1 1119.5,1467.9 1122.1,1467.7 1124.7,1467.5 1127.3,1467.3 1129.9,1467.0 1132.5,1466.7 1135.1,1466.3 1137.7,1465.9 1140.3,1465.4 1142.9,1464.8 1145.5,1464.0 1148.1,1463.1 1150.7,1461.9 1153.3,1460.3 1155.9,1458.0 1158.5,1454.7 1161.1,1450.3 1163.7,1444.3 1166.3,1436.6 1168.9,1427.4 1171.5,1416.2 1174.1,1403.2 1176.7,1388.5 1179.3,1372.5 1181.9,1355.8 1184.5,1339.7 1187.1,1325.7 1189.7,1315.3 1192.3,1310.6 1194.9,1316.5 1197.5,1327.4 1200.1,1342.2 1202.7,1358.6 1205.3,1375.0 1207.9,1390.7 1210.5,1405.2 1213.1,1418.0 1215.7,1429.0 1218.3,1438.1 1220.9,1445.5 1223.5,1451.2 1226.1,1455.4 1228.7,1458.5 1231.3,1460.8 1233.9,1462.4 1236.5,1463.4 1239.1,1464.2 1241.7,1464.9 1244.3,1465.6 1246.9,1466.1 1249.5,1466.5 1252.1,1466.9 1254.7,1467.2 1257.3,1467.5 1259.9,1467.8 1262.5,1468.0 1265.1,1468.1 1267.7,1468.4 1270.3,1468.6 1272.9,1468.7 1275.5,1468.8 1278.1,1469.0 1280.7,1469.0 1283.3,1469.0 1285.9,1469.2 1288.5,1469.3 1291.1,1469.5 1293.7,1469.5 1296.3,1469.6 1298.9,1469.7 1301.5,1469.7 1304.1,1469.7 1306.7,1469.8 1309.3,1469.8 1311.9,1469.9 1314.5,1469.9 1317.1,1469.9 1319.7,1469.9 1322.3,1469.9 1324.9,1470.0 1327.5,1470.0 1330.1,1470.1 1332.7,1470.2 1335.3,1470.3 1337.9,1470.3 1340.5,1470.2 1343.1,1470.3 1345.7,1470.4 1348.3,1470.5 1350.9,1470.4 1353.5,1470.4 1356.1,1470.3 1358.7,1470.3 1361.3,1470.5 1363.9,1470.5 1366.5,1470.4 1369.1,1470.5 1371.7,1470.5 1374.3,1470.4 1376.9,1470.4 1379.5,1470.4 1382.1,1470.5 1384.7,1470.5 1387.3,1470.6 1389.9,1470.7 1392.5,1470.7 1395.1,1470.7 1397.7,1470.8 1400.3,1470.7 1402.9,1470.6 1405.5,1470.6 1408.1,1470.6 1410.7,1470.6 1413.3,1470.7 1415.9,1470.7 1418.5,1470.7 1421.1,1470.6 1423.7,1470.6 1426.3,1470.7 1428.9,1470.7 1431.5,1470.7 1434.1,1470.7 1436.7,1470.8 1439.3,1470.8 1441.9,1470.8 1444.5,1470.8 1447.1,1470.8 1449.7,1470.7 1452.3,1470.6 1454.9,1470.7 1457.5,1470.8 1460.1,1470.8 1462.7,1470.8 1465.3,1470.8 1467.9,1470.8 1470.5,1470.8 1473.1,1470.9 1475.7,1470.9 1478.3,1470.9 1480.9,1470.9 1483.5,1470.8 1486.1,1470.9 1488.7,1470.9 1491.3,1471.0 1493.9,1470.9 1496.5,1470.8 1499.1,1470.8 1501.7,1470.8 1504.3,1470.8 1506.9,1470.8 1509.5,1470.9 1512.1,1470.9 1514.7,1471.0 1517.3,1471.0 1519.9,1471.0 1522.5,1471.1 1525.1,1471.1 1527.7,1471.0 1530.3,1471.1 1532.9,1471.0 1535.5,1470.9 1538.1,1470.9 1540.7,1471.0 1543.3,1471.1 1545.9,1471.2 1548.5,1471.1 1551.1,1471.1 1553.7,1471.1 1556.3,1471.1 1558.9,1471.1 1561.5,1471.0 1564.1,1471.0 1566.7,1471.0 1569.3,1471.0 1571.9,1471.0 1574.5,1471.1 1577.1,1471.2 1579.7,1471.1 1582.3,1471.1 1584.9,1471.1 1587.5,1471.1 1590.1,1471.0 1592.7,1471.1 1595.3,1471.1 1597.9,1471.1 1600.5,1471.1 1603.1,1471.2 1605.7,1471.2 1608.3,1471.1 1610.9,1471.1 1613.5,1471.1 1616.1,1471.1 1618.7,1471.1 1621.3,1471.1 1623.9,1471.1 1626.5,1471.1 1629.1,1471.2 1631.7,1471.2 1634.3,1471.1 1636.9,1471.1 1639.5,1471.1 1642.1,1471.1 1644.7,1471.2 1647.3,1471.2 1649.9,1471.2 1652.5,1471.2 1655.1,1471.2 1657.7,1471.2 1660.3,1471.2 1662.9,1471.1 1665.5,1471.1 1668.1,1471.1 1670.7,1471.2 1673.3,1471.2 1675.9,1471.1 1678.5,1471.0 1681.1,1471.0 1683.7,1471.2 1686.3,1471.2 1688.9,1471.1 1691.5,1471.1 1694.1,1471.1 1696.7,1471.1 1699.3,1471.1 1701.9,1471.1 1704.5,1471.1 1707.1,1471.2 1709.7,1471.2 1712.3,1471.1 1714.9,1471.1 1717.5,1471.1 1720.1,1471.2 1722.7,1471.3 1725.3,1471.3 1727.9,1471.2 1730.5,1471.1 1733.1,1471.1 1735.7,1471.1 1738.3,1471.2 1740.9,1471.2 1743.5,1471.3 1746.1,1471.3 1748.7,1471.3 1751.3,1471.2 1753.9,1471.3 1756.5,1471.3 1759.1,1471.2 1761.7,1471.1 1764.3,1471.2 1766.9,1471.2 1769.5,1471.2 1772.1,1471.2 1774.7,1471.2 1777.3,1471.3 1779.9,1471.2 1782.5,1471.1 1785.1,1471.1 1787.7,1471.2 1790.3,1471.1 1792.9,1471.2 1795.5,1471.2 1798.1,1471.2 1799.0,1471.3" fill="none" stroke="#1A1A1A" stroke-width="7.1" stroke-linejoin="round" stroke-linecap="butt"/>
<path d="M183.5,1634.8 186.1,1634.8 188.7,1634.7 191.3,1634.7 193.9,1634.6 196.5,1634.6 199.1,1634.5 201.7,1634.5 204.3,1634.4 206.9,1634.4 209.5,1634.5 212.1,1634.7 214.7,1634.7 217.3,1634.7 219.9,1634.6 222.5,1634.6 225.1,1634.5 227.7,1634.4 230.3,1634.5 232.9,1634.6 235.5,1634.5 238.1,1634.6 240.7,1634.8 243.3,1634.7 245.9,1634.6 248.5,1634.5 251.1,1634.5 253.7,1634.5 256.3,1634.5 258.9,1634.4 261.5,1634.5 264.1,1634.5 266.7,1634.5 269.3,1634.5 271.9,1634.5 274.5,1634.5 277.1,1634.5 279.7,1634.6 282.3,1634.6 284.9,1634.4 287.5,1634.4 290.1,1634.4 292.7,1634.4 295.3,1634.4 297.9,1634.5 300.5,1634.6 303.1,1634.6 305.7,1634.6 308.3,1634.5 310.9,1634.3 313.5,1634.2 316.1,1634.3 318.7,1634.3 321.3,1634.3 323.9,1634.3 326.5,1634.2 329.1,1634.3 331.7,1634.4 334.3,1634.3 336.9,1634.2 339.5,1634.2 342.1,1634.2 344.7,1634.3 347.3,1634.3 349.9,1634.2 352.5,1634.2 355.1,1634.1 357.7,1634.1 360.3,1634.1 362.9,1634.1 365.5,1633.9 368.1,1633.9 370.7,1633.9 373.3,1633.7 375.9,1633.6 378.5,1633.8 381.1,1633.9 383.7,1633.7 386.3,1633.6 388.9,1633.5 391.5,1633.4 394.1,1633.4 396.7,1633.4 399.3,1633.3 401.9,1633.2 404.5,1633.0 407.1,1632.9 409.7,1632.7 412.3,1632.6 414.9,1632.5 417.5,1632.3 420.1,1632.2 422.7,1631.8 425.3,1631.5 427.9,1631.2 430.5,1630.7 433.1,1630.2 435.7,1629.5 438.3,1628.6 440.9,1627.3 443.5,1625.5 446.1,1622.9 448.7,1619.7 451.3,1615.4 453.9,1610.0 456.5,1603.7 459.1,1596.3 461.7,1587.9 464.3,1578.6 466.9,1568.9 469.5,1559.3 472.1,1550.5 474.7,1543.5 477.3,1539.1 479.9,1540.4 482.5,1546.0 485.1,1553.9 487.7,1563.0 490.3,1572.6 492.9,1582.2 495.5,1591.1 498.1,1599.2 500.7,1606.3 503.3,1612.4 505.9,1617.3 508.5,1621.1 511.1,1624.0 513.7,1626.2 516.3,1627.8 518.9,1629.0 521.5,1629.7 524.1,1630.4 526.7,1631.0 529.3,1631.4 531.9,1631.7 534.5,1631.9 537.1,1632.1 539.7,1632.3 542.3,1632.4 544.9,1632.6 547.5,1632.8 550.1,1632.9 552.7,1633.2 555.3,1633.5 557.9,1633.5 560.5,1633.4 563.1,1633.4 565.7,1633.5 568.3,1633.6 570.9,1633.7 573.5,1633.8 576.1,1633.8 578.7,1633.8 581.3,1633.9 583.9,1634.0 586.5,1634.0 589.1,1634.1 591.7,1634.1 594.3,1634.1 596.9,1634.1 599.5,1634.1 602.1,1633.9 604.7,1633.9 607.3,1634.1 609.9,1634.3 612.5,1634.3 615.1,1634.1 617.7,1634.0 620.3,1634.1 622.9,1634.2 625.5,1634.3 628.1,1634.3 630.7,1634.3 633.3,1634.3 635.9,1634.5 638.5,1634.5 641.1,1634.3 643.7,1634.4 646.3,1634.5 648.9,1634.5 651.5,1634.4 654.1,1634.5 656.7,1634.5 659.3,1634.4 661.9,1634.4 664.5,1634.4 667.1,1634.5 669.7,1634.4 672.3,1634.4 674.9,1634.5 677.5,1634.5 680.1,1634.6 682.7,1634.6 685.3,1634.5 687.9,1634.6 690.5,1634.7 693.1,1634.6 695.7,1634.6 698.3,1634.6 700.9,1634.5 703.5,1634.4 706.1,1634.5 708.7,1634.6 711.3,1634.5 713.9,1634.6 716.5,1634.6 719.1,1634.5 721.7,1634.4 724.3,1634.5 726.9,1634.5 729.5,1634.4 732.1,1634.4 734.7,1634.4 737.3,1634.4 739.9,1634.3 742.5,1634.3 745.1,1634.5 747.7,1634.4 750.3,1634.3 752.9,1634.4 755.5,1634.5 758.1,1634.5 760.7,1634.5 763.3,1634.4 765.9,1634.3 768.5,1634.2 771.1,1634.4 773.7,1634.5 776.3,1634.3 778.9,1634.4 781.5,1634.4 784.1,1634.3 786.7,1634.2 789.3,1634.2 791.9,1634.3 794.5,1634.3 797.1,1634.1 799.7,1634.0 802.3,1634.1 804.9,1634.0 807.5,1633.9 810.1,1633.9 812.7,1633.8 815.3,1633.8 817.9,1633.9 820.5,1633.8 823.1,1633.7 825.7,1633.6 828.3,1633.6 830.9,1633.5 833.5,1633.4 836.1,1633.3 838.7,1633.2 841.3,1633.1 843.9,1633.0 846.5,1632.8 849.1,1632.6 851.7,1632.4 854.3,1632.2 856.9,1632.0 859.5,1631.6 862.1,1631.1 864.7,1630.4 867.3,1629.4 869.9,1628.3 872.5,1626.6 875.1,1624.2 877.7,1621.2 880.3,1617.4 882.9,1612.5 885.5,1606.6 888.1,1599.9 890.7,1592.7 893.3,1585.1 895.9,1577.0 898.5,1569.4 901.1,1563.1 903.7,1558.9 906.3,1558.9 908.9,1563.0 911.5,1569.3 914.1,1576.9 916.7,1584.8 919.3,1592.6 921.9,1600.1 924.5,1606.8 927.1,1612.5 929.7,1617.3 932.3,1621.1 934.9,1624.0 937.5,1626.3 940.1,1628.1 942.7,1629.5 945.3,1630.3 947.9,1630.9 950.5,1631.4 953.1,1631.8 955.7,1632.1 958.3,1632.3 960.9,1632.5 963.5,1632.7 966.1,1632.9 968.7,1633.0 971.3,1633.1 973.9,1633.2 976.5,1633.3 979.1,1633.4 981.7,1633.4 984.3,1633.3 986.9,1633.4 989.5,1633.5 992.1,1633.6 994.7,1633.6 997.3,1633.7 999.9,1633.8 1002.5,1633.8 1005.1,1633.8 1007.7,1633.8 1010.3,1633.8 1012.9,1633.8 1015.5,1633.8 1018.1,1633.9 1020.7,1634.1 1023.3,1634.1 1025.9,1634.0 1028.5,1633.9 1031.1,1633.9 1033.7,1633.9 1036.3,1633.9 1038.9,1633.9 1041.5,1633.8 1044.1,1633.7 1046.7,1633.7 1049.3,1633.8 1051.9,1633.9 1054.5,1633.8 1057.1,1633.7 1059.7,1633.7 1062.3,1633.7 1064.9,1633.7 1067.5,1633.7 1070.1,1633.6 1072.7,1633.6 1075.3,1633.5 1077.9,1633.4 1080.5,1633.3 1083.1,1633.3 1085.7,1633.4 1088.3,1633.4 1090.9,1633.2 1093.5,1633.1 1096.1,1633.0 1098.7,1632.9 1101.3,1632.8 1103.9,1632.7 1106.5,1632.5 1109.1,1632.3 1111.7,1632.1 1114.3,1632.0 1116.9,1631.8 1119.5,1631.6 1122.1,1631.4 1124.7,1631.3 1127.3,1631.1 1129.9,1630.8 1132.5,1630.5 1135.1,1630.1 1137.7,1629.6 1140.3,1629.1 1142.9,1628.6 1145.5,1627.9 1148.1,1627.0 1150.7,1626.0 1153.3,1624.7 1155.9,1622.9 1158.5,1620.4 1161.1,1617.1 1163.7,1612.9 1166.3,1607.6 1168.9,1601.0 1171.5,1593.1 1174.1,1584.1 1176.7,1573.7 1179.3,1562.0 1181.9,1549.1 1184.5,1535.3 1187.1,1521.2 1189.7,1507.5 1192.3,1495.1 1194.9,1485.0 1197.5,1478.2 1200.1,1477.2 1202.7,1483.2 1205.3,1492.6 1207.9,1504.5 1210.5,1518.1 1213.1,1532.3 1215.7,1545.9 1218.3,1558.6 1220.9,1570.7 1223.5,1581.6 1226.1,1591.3 1228.7,1599.4 1231.3,1606.2 1233.9,1611.9 1236.5,1616.3 1239.1,1619.9 1241.7,1622.7 1244.3,1624.6 1246.9,1626.0 1249.5,1627.1 1252.1,1627.8 1254.7,1628.6 1257.3,1629.1 1259.9,1629.6 1262.5,1630.1 1265.1,1630.6 1267.7,1630.9 1270.3,1631.2 1272.9,1631.3 1275.5,1631.5 1278.1,1631.7 1280.7,1632.0 1283.3,1632.1 1285.9,1632.3 1288.5,1632.6 1291.1,1632.9 1293.7,1632.9 1296.3,1633.0 1298.9,1633.2 1301.5,1633.3 1304.1,1633.3 1306.7,1633.3 1309.3,1633.4 1311.9,1633.6 1314.5,1633.7 1317.1,1633.7 1319.7,1633.7 1322.3,1633.8 1324.9,1633.9 1327.5,1634.0 1330.1,1634.0 1332.7,1634.0 1335.3,1634.0 1337.9,1634.1 1340.5,1634.1 1343.1,1634.1 1345.7,1634.1 1348.3,1634.2 1350.9,1634.3 1353.5,1634.4 1356.1,1634.5 1358.7,1634.4 1361.3,1634.3 1363.9,1634.3 1366.5,1634.3 1369.1,1634.4 1371.7,1634.5 1374.3,1634.4 1376.9,1634.4 1379.5,1634.5 1382.1,1634.5 1384.7,1634.6 1387.3,1634.6 1389.9,1634.6 1392.5,1634.7 1395.1,1634.8 1397.7,1634.8 1400.3,1634.8 1402.9,1634.8 1405.5,1634.7 1408.1,1634.7 1410.7,1634.7 1413.3,1634.8 1415.9,1634.9 1418.5,1634.9 1421.1,1634.9 1423.7,1634.9 1426.3,1635.0 1428.9,1634.9 1431.5,1634.7 1434.1,1634.8 1436.7,1635.0 1439.3,1635.0 1441.9,1635.0 1444.5,1635.0 1447.1,1634.8 1449.7,1634.8 1452.3,1634.9 1454.9,1634.9 1457.5,1635.0 1460.1,1635.1 1462.7,1635.0 1465.3,1635.0 1467.9,1635.2 1470.5,1635.2 1473.1,1635.0 1475.7,1634.9 1478.3,1634.9 1480.9,1634.9 1483.5,1635.0 1486.1,1635.0 1488.7,1635.1 1491.3,1635.1 1493.9,1635.1 1496.5,1635.0 1499.1,1635.0 1501.7,1635.0 1504.3,1635.0 1506.9,1635.1 1509.5,1635.1 1512.1,1635.1 1514.7,1635.2 1517.3,1635.2 1519.9,1635.2 1522.5,1635.1 1525.1,1635.1 1527.7,1635.3 1530.3,1635.2 1532.9,1635.1 1535.5,1635.1 1538.1,1635.1 1540.7,1635.0 1543.3,1635.0 1545.9,1635.1 1548.5,1635.1 1551.1,1635.0 1553.7,1635.1 1556.3,1635.1 1558.9,1635.1 1561.5,1635.2 1564.1,1635.2 1566.7,1635.2 1569.3,1635.4 1571.9,1635.3 1574.5,1635.1 1577.1,1635.2 1579.7,1635.3 1582.3,1635.1 1584.9,1635.0 1587.5,1635.0 1590.1,1635.1 1592.7,1635.2 1595.3,1635.2 1597.9,1635.3 1600.5,1635.2 1603.1,1635.1 1605.7,1635.2 1608.3,1635.3 1610.9,1635.2 1613.5,1635.1 1616.1,1635.3 1618.7,1635.4 1621.3,1635.2 1623.9,1635.2 1626.5,1635.2 1629.1,1635.2 1631.7,1635.2 1634.3,1635.2 1636.9,1635.1 1639.5,1635.2 1642.1,1635.2 1644.7,1635.2 1647.3,1635.3 1649.9,1635.4 1652.5,1635.4 1655.1,1635.3 1657.7,1635.2 1660.3,1635.3 1662.9,1635.3 1665.5,1635.2 1668.1,1635.3 1670.7,1635.3 1673.3,1635.3 1675.9,1635.3 1678.5,1635.2 1681.1,1635.2 1683.7,1635.2 1686.3,1635.2 1688.9,1635.3 1691.5,1635.4 1694.1,1635.4 1696.7,1635.3 1699.3,1635.3 1701.9,1635.4 1704.5,1635.5 1707.1,1635.5 1709.7,1635.4 1712.3,1635.4 1714.9,1635.3 1717.5,1635.3 1720.1,1635.3 1722.7,1635.2 1725.3,1635.2 1727.9,1635.2 1730.5,1635.2 1733.1,1635.3 1735.7,1635.4 1738.3,1635.4 1740.9,1635.4 1743.5,1635.4 1746.1,1635.3 1748.7,1635.3 1751.3,1635.3 1753.9,1635.3 1756.5,1635.4 1759.1,1635.4 1761.7,1635.4 1764.3,1635.5 1766.9,1635.5 1769.5,1635.3 1772.1,1635.3 1774.7,1635.4 1777.3,1635.4 1779.9,1635.4 1782.5,1635.5 1785.1,1635.3 1787.7,1635.4 1790.3,1635.5 1792.9,1635.5 1795.5,1635.4 1798.1,1635.4 1799.0,1635.4" fill="none" stroke="#404040" stroke-width="7.1" stroke-linejoin="round" stroke-linecap="butt"/>
<path d="M183.5,1796.9 186.1,1797.3 188.7,1797.5 191.3,1797.3 193.9,1797.0 196.5,1796.9 199.1,1796.7 201.7,1796.5 204.3,1796.7 206.9,1797.0 209.5,1797.0 212.1,1796.7 214.7,1796.6 217.3,1796.6 219.9,1796.7 222.5,1796.8 225.1,1796.7 227.7,1796.4 230.3,1796.4 232.9,1796.4 235.5,1796.3 238.1,1796.6 240.7,1797.0 243.3,1797.2 245.9,1797.0 248.5,1796.6 251.1,1796.4 253.7,1796.6 256.3,1796.8 258.9,1796.9 261.5,1797.0 264.1,1797.0 266.7,1797.3 269.3,1797.4 271.9,1797.4 274.5,1797.1 277.1,1796.7 279.7,1796.7 282.3,1797.0 284.9,1797.2 287.5,1797.0 290.1,1796.9 292.7,1796.7 295.3,1796.6 297.9,1796.5 300.5,1796.2 303.1,1796.3 305.7,1796.7 308.3,1796.9 310.9,1797.1 313.5,1797.1 316.1,1796.9 318.7,1796.5 321.3,1796.2 323.9,1796.4 326.5,1796.5 329.1,1796.7 331.7,1796.6 334.3,1796.5 336.9,1796.4 339.5,1796.3 342.1,1795.9 344.7,1796.1 347.3,1796.7 349.9,1796.7 352.5,1796.4 355.1,1796.3 357.7,1796.7 360.3,1797.1 362.9,1796.8 365.5,1796.3 368.1,1795.9 370.7,1795.6 373.3,1796.1 375.9,1796.6 378.5,1796.5 381.1,1796.1 383.7,1795.7 386.3,1795.5 388.9,1795.6 391.5,1795.5 394.1,1795.5 396.7,1795.6 399.3,1795.3 401.9,1794.7 404.5,1794.7 407.1,1795.0 409.7,1794.9 412.3,1794.5 414.9,1794.2 417.5,1793.7 420.1,1793.4 422.7,1793.1 425.3,1792.5 427.9,1792.0 430.5,1791.3 433.1,1790.1 435.7,1788.4 438.3,1786.1 440.9,1783.1 443.5,1779.1 446.1,1774.3 448.7,1768.7 451.3,1762.5 453.9,1755.7 456.5,1748.1 459.1,1740.1 461.7,1732.4 464.3,1724.8 466.9,1717.2 469.5,1711.4 472.1,1708.0 474.7,1708.4 477.3,1712.5 479.9,1718.9 482.5,1726.5 485.1,1734.9 487.7,1743.7 490.3,1751.6 492.9,1758.9 495.5,1765.7 498.1,1771.3 500.7,1776.0 503.3,1780.2 505.9,1783.7 508.5,1786.6 511.1,1788.6 513.7,1789.6 516.3,1790.7 518.9,1792.0 521.5,1792.9 524.1,1793.4 526.7,1793.9 529.3,1794.5 531.9,1794.8 534.5,1794.8 537.1,1794.7 539.7,1794.8 542.3,1795.3 544.9,1795.4 547.5,1795.5 550.1,1795.7 552.7,1795.8 555.3,1795.6 557.9,1795.7 560.5,1796.1 563.1,1796.2 565.7,1796.3 568.3,1796.4 570.9,1796.3 573.5,1796.4 576.1,1796.4 578.7,1796.5 581.3,1796.6 583.9,1796.6 586.5,1796.8 589.1,1796.7 591.7,1796.6 594.3,1796.7 596.9,1796.9 599.5,1796.7 602.1,1796.5 604.7,1796.5 607.3,1796.4 609.9,1797.0 612.5,1797.8 615.1,1797.7 617.7,1797.3 620.3,1796.9 622.9,1796.7 625.5,1797.0 628.1,1797.2 630.7,1797.1 633.3,1796.9 635.9,1796.9 638.5,1797.2 641.1,1797.5 643.7,1797.4 646.3,1797.1 648.9,1797.0 651.5,1796.9 654.1,1796.9 656.7,1797.3 659.3,1797.7 661.9,1797.4 664.5,1797.2 667.1,1797.6 669.7,1797.8 672.3,1797.8 674.9,1797.4 677.5,1797.1 680.1,1797.3 682.7,1797.3 685.3,1797.0 687.9,1797.1 690.5,1797.1 693.1,1797.2 695.7,1797.5 698.3,1797.5 700.9,1797.3 703.5,1797.4 706.1,1797.6 708.7,1797.5 711.3,1797.2 713.9,1797.6 716.5,1797.9 719.1,1797.6 721.7,1797.5 724.3,1798.0 726.9,1798.2 729.5,1797.5 732.1,1796.8 734.7,1797.1 737.3,1797.7 739.9,1797.7 742.5,1797.7 745.1,1797.7 747.7,1797.7 750.3,1797.9 752.9,1797.7 755.5,1797.6 758.1,1797.6 760.7,1797.8 763.3,1797.9 765.9,1797.3 768.5,1797.1 771.1,1797.4 773.7,1797.2 776.3,1797.1 778.9,1797.2 781.5,1797.4 784.1,1797.5 786.7,1797.4 789.3,1797.2 791.9,1796.9 794.5,1796.8 797.1,1797.1 799.7,1797.3 802.3,1797.2 804.9,1797.0 807.5,1796.9 810.1,1797.1 812.7,1797.3 815.3,1796.9 817.9,1796.7 820.5,1796.9 823.1,1796.7 825.7,1796.7 828.3,1797.0 830.9,1796.9 833.5,1796.6 836.1,1796.4 838.7,1796.1 841.3,1795.9 843.9,1795.5 846.5,1795.4 849.1,1795.2 851.7,1794.9 854.3,1794.6 856.9,1793.9 859.5,1793.1 862.1,1792.6 864.7,1791.8 867.3,1790.2 869.9,1788.0 872.5,1785.2 875.1,1781.5 877.7,1776.6 880.3,1770.8 882.9,1764.5 885.5,1757.3 888.1,1749.2 890.7,1740.9 893.3,1732.8 895.9,1725.4 898.5,1719.6 901.1,1716.1 903.7,1717.7 906.3,1722.5 908.9,1729.6 911.5,1737.7 914.1,1746.3 916.7,1754.9 919.3,1762.4 921.9,1768.8 924.5,1774.8 927.1,1779.8 929.7,1783.7 932.3,1787.2 934.9,1789.8 937.5,1791.2 940.1,1792.1 942.7,1793.1 945.3,1794.0 947.9,1794.7 950.5,1794.9 953.1,1795.0 955.7,1795.2 958.3,1795.4 960.9,1795.6 963.5,1796.1 966.1,1796.6 968.7,1796.6 971.3,1796.5 973.9,1796.6 976.5,1796.6 979.1,1796.9 981.7,1796.7 984.3,1796.2 986.9,1796.2 989.5,1796.7 992.1,1796.9 994.7,1797.0 997.3,1797.2 999.9,1797.3 1002.5,1797.1 1005.1,1797.1 1007.7,1797.1 1010.3,1797.3 1012.9,1797.5 1015.5,1797.6 1018.1,1797.4 1020.7,1797.2 1023.3,1797.4 1025.9,1797.5 1028.5,1797.4 1031.1,1797.4 1033.7,1797.2 1036.3,1797.1 1038.9,1797.2 1041.5,1797.0 1044.1,1797.0 1046.7,1797.0 1049.3,1796.8 1051.9,1797.0 1054.5,1797.2 1057.1,1797.2 1059.7,1796.9 1062.3,1796.6 1064.9,1796.4 1067.5,1796.5 1070.1,1796.7 1072.7,1796.8 1075.3,1797.0 1077.9,1797.0 1080.5,1796.6 1083.1,1796.4 1085.7,1796.5 1088.3,1796.2 1090.9,1795.7 1093.5,1795.7 1096.1,1796.0 1098.7,1796.0 1101.3,1795.6 1103.9,1795.5 1106.5,1795.4 1109.1,1795.0 1111.7,1795.0 1114.3,1794.8 1116.9,1794.5 1119.5,1794.4 1122.1,1794.1 1124.7,1793.5 1127.3,1793.1 1129.9,1793.1 1132.5,1792.9 1135.1,1792.4 1137.7,1791.7 1140.3,1790.6 1142.9,1789.6 1145.5,1788.6 1148.1,1786.8 1150.7,1784.2 1153.3,1781.4 1155.9,1777.4 1158.5,1772.4 1161.1,1766.8 1163.7,1760.1 1166.3,1752.6 1168.9,1743.9 1171.5,1734.0 1174.1,1723.2 1176.7,1710.9 1179.3,1697.7 1181.9,1684.7 1184.5,1672.2 1187.1,1660.4 1189.7,1650.8 1192.3,1643.9 1194.9,1639.9 1197.5,1643.7 1200.1,1650.5 1202.7,1660.2 1205.3,1672.2 1207.9,1685.0 1210.5,1698.1 1213.1,1710.7 1215.7,1722.5 1218.3,1733.5 1220.9,1743.6 1223.5,1752.3 1226.1,1760.1 1228.7,1767.1 1231.3,1773.0 1233.9,1777.5 1236.5,1781.6 1239.1,1784.9 1241.7,1787.1 1244.3,1788.5 1246.9,1789.9 1249.5,1791.2 1252.1,1792.2 1254.7,1792.8 1257.3,1793.0 1259.9,1793.4 1262.5,1794.0 1265.1,1794.2 1267.7,1794.6 1270.3,1795.2 1272.9,1795.4 1275.5,1795.4 1278.1,1795.6 1280.7,1795.9 1283.3,1796.2 1285.9,1796.2 1288.5,1796.3 1291.1,1796.7 1293.7,1796.7 1296.3,1796.6 1298.9,1796.7 1301.5,1796.8 1304.1,1797.0 1306.7,1797.3 1309.3,1797.5 1311.9,1797.7 1314.5,1797.6 1317.1,1797.3 1319.7,1797.2 1322.3,1797.4 1324.9,1797.7 1327.5,1797.8 1330.1,1798.0 1332.7,1798.0 1335.3,1797.9 1337.9,1798.2 1340.5,1798.4 1343.1,1798.2 1345.7,1797.9 1348.3,1797.7 1350.9,1797.6 1353.5,1798.0 1356.1,1798.5 1358.7,1798.5 1361.3,1797.9 1363.9,1797.8 1366.5,1798.4 1369.1,1798.4 1371.7,1798.0 1374.3,1798.0 1376.9,1798.3 1379.5,1798.7 1382.1,1798.7 1384.7,1798.2 1387.3,1798.0 1389.9,1798.5 1392.5,1799.2 1395.1,1799.0 1397.7,1798.7 1400.3,1798.8 1402.9,1798.9 1405.5,1798.8 1408.1,1798.5 1410.7,1798.6 1413.3,1799.2 1415.9,1799.3 1418.5,1798.9 1421.1,1798.5 1423.7,1798.7 1426.3,1798.9 1428.9,1798.8 1431.5,1798.9 1434.1,1799.0 1436.7,1799.0 1439.3,1799.0 1441.9,1798.8 1444.5,1798.5 1447.1,1798.4 1449.7,1798.5 1452.3,1798.8 1454.9,1799.1 1457.5,1798.9 1460.1,1798.7 1462.7,1799.4 1465.3,1799.7 1467.9,1799.3 1470.5,1799.1 1473.1,1799.2 1475.7,1799.2 1478.3,1799.2 1480.9,1799.2 1483.5,1799.1 1486.1,1798.9 1488.7,1798.9 1491.3,1798.8 1493.9,1798.8 1496.5,1799.3 1499.1,1799.8 1501.7,1799.8 1504.3,1799.5 1506.9,1799.0 1509.5,1799.1 1512.1,1799.5 1514.7,1799.7 1517.3,1799.4 1519.9,1799.0 1522.5,1798.9 1525.1,1798.9 1527.7,1798.9 1530.3,1799.1 1532.9,1799.1 1535.5,1799.0 1538.1,1798.9 1540.7,1798.7 1543.3,1798.9 1545.9,1799.1 1548.5,1799.1 1551.1,1799.1 1553.7,1799.5 1556.3,1799.6 1558.9,1799.3 1561.5,1799.1 1564.1,1799.5 1566.7,1799.5 1569.3,1799.1 1571.9,1799.2 1574.5,1799.6 1577.1,1799.7 1579.7,1799.3 1582.3,1799.2 1584.9,1799.5 1587.5,1799.5 1590.1,1799.6 1592.7,1799.5 1595.3,1799.4 1597.9,1799.5 1600.5,1799.7 1603.1,1799.6 1605.7,1799.4 1608.3,1799.6 1610.9,1799.9 1613.5,1799.6 1616.1,1799.3 1618.7,1799.2 1621.3,1799.1 1623.9,1799.1 1626.5,1799.4 1629.1,1799.8 1631.7,1800.3 1634.3,1800.2 1636.9,1799.7 1639.5,1799.1 1642.1,1799.0 1644.7,1799.3 1647.3,1799.6 1649.9,1800.1 1652.5,1800.1 1655.1,1799.5 1657.7,1799.6 1660.3,1799.8 1662.9,1799.4 1665.5,1799.3 1668.1,1799.8 1670.7,1799.6 1673.3,1799.4 1675.9,1799.5 1678.5,1799.7 1681.1,1799.7 1683.7,1800.0 1686.3,1800.2 1688.9,1800.0 1691.5,1799.8 1694.1,1800.0 1696.7,1800.1 1699.3,1799.8 1701.9,1799.5 1704.5,1799.5 1707.1,1799.8 1709.7,1800.1 1712.3,1800.0 1714.9,1799.9 1717.5,1799.9 1720.1,1799.8 1722.7,1799.7 1725.3,1799.5 1727.9,1799.4 1730.5,1799.7 1733.1,1800.0 1735.7,1800.1 1738.3,1800.3 1740.9,1800.3 1743.5,1799.8 1746.1,1799.5 1748.7,1799.5 1751.3,1799.6 1753.9,1799.9 1756.5,1800.0 1759.1,1800.0 1761.7,1799.8 1764.3,1799.8 1766.9,1800.1 1769.5,1800.0 1772.1,1799.9 1774.7,1799.9 1777.3,1799.8 1779.9,1799.6 1782.5,1799.5 1785.1,1799.8 1787.7,1799.9 1790.3,1799.5 1792.9,1799.3 1795.5,1799.7 1798.1,1800.1 1799.0,1800.2" fill="none" stroke="#767171" stroke-width="7.1" stroke-linejoin="round" stroke-linecap="butt"/>
<path d="M183.5,1962.3 186.1,1962.3 188.7,1962.5 191.3,1962.5 193.9,1962.2 196.5,1962.2 199.1,1962.3 201.7,1962.3 204.3,1962.4 206.9,1962.9 209.5,1963.2 212.1,1963.0 214.7,1962.7 217.3,1962.7 219.9,1962.3 222.5,1962.4 225.1,1962.6 227.7,1962.4 230.3,1962.2 232.9,1962.1 235.5,1962.3 238.1,1962.8 240.7,1963.4 243.3,1963.3 245.9,1962.8 248.5,1962.4 251.1,1962.6 253.7,1962.7 256.3,1962.7 258.9,1962.7 261.5,1962.4 264.1,1962.4 266.7,1962.7 269.3,1962.8 271.9,1962.7 274.5,1962.6 277.1,1962.3 279.7,1962.0 282.3,1962.1 284.9,1962.6 287.5,1962.7 290.1,1962.6 292.7,1962.3 295.3,1962.1 297.9,1962.2 300.5,1962.2 303.1,1962.2 305.7,1962.4 308.3,1962.3 310.9,1962.1 313.5,1962.2 316.1,1962.3 318.7,1962.3 321.3,1962.4 323.9,1962.4 326.5,1962.8 329.1,1963.0 331.7,1962.8 334.3,1962.4 336.9,1962.2 339.5,1962.4 342.1,1962.5 344.7,1962.7 347.3,1962.6 349.9,1962.4 352.5,1962.2 355.1,1962.1 357.7,1961.8 360.3,1961.7 362.9,1961.9 365.5,1961.8 368.1,1962.0 370.7,1962.5 373.3,1962.6 375.9,1962.2 378.5,1962.0 381.1,1962.2 383.7,1962.3 386.3,1962.0 388.9,1961.6 391.5,1961.7 394.1,1961.8 396.7,1961.5 399.3,1961.6 401.9,1961.9 404.5,1961.7 407.1,1961.2 409.7,1961.0 412.3,1960.8 414.9,1960.6 417.5,1960.5 420.1,1960.4 422.7,1960.3 425.3,1959.9 427.9,1959.5 430.5,1959.3 433.1,1958.8 435.7,1958.2 438.3,1958.0 440.9,1957.3 443.5,1956.2 446.1,1954.7 448.7,1952.0 451.3,1948.4 453.9,1943.9 456.5,1938.4 459.1,1932.0 461.7,1924.6 464.3,1915.9 466.9,1906.6 469.5,1897.1 472.1,1887.3 474.7,1878.1 477.3,1870.0 479.9,1864.1 482.5,1869.8 485.1,1877.7 487.7,1886.7 490.3,1896.6 492.9,1906.9 495.5,1916.0 498.1,1923.7 500.7,1931.0 503.3,1937.6 505.9,1943.4 508.5,1948.2 511.1,1951.8 513.7,1954.2 516.3,1955.4 518.9,1956.6 521.5,1958.1 524.1,1958.5 526.7,1958.9 529.3,1960.0 531.9,1960.4 534.5,1960.0 537.1,1959.9 539.7,1960.5 542.3,1960.9 544.9,1960.9 547.5,1960.7 550.1,1960.6 552.7,1960.9 555.3,1961.5 557.9,1961.9 560.5,1962.0 563.1,1961.9 565.7,1961.9 568.3,1962.3 570.9,1962.5 573.5,1962.1 576.1,1961.7 578.7,1961.9 581.3,1961.9 583.9,1961.7 586.5,1961.8 589.1,1962.2 591.7,1962.2 594.3,1962.0 596.9,1962.2 599.5,1962.5 602.1,1962.4 604.7,1962.0 607.3,1961.8 609.9,1962.1 612.5,1962.5 615.1,1962.5 617.7,1962.7 620.3,1962.8 622.9,1962.7 625.5,1962.7 628.1,1962.7 630.7,1962.9 633.3,1962.6 635.9,1962.3 638.5,1962.6 641.1,1962.8 643.7,1962.6 646.3,1962.5 648.9,1962.8 651.5,1962.8 654.1,1962.8 656.7,1962.8 659.3,1962.6 661.9,1962.5 664.5,1962.5 667.1,1962.6 669.7,1962.4 672.3,1962.4 674.9,1962.5 677.5,1962.7 680.1,1962.5 682.7,1962.4 685.3,1962.9 687.9,1963.2 690.5,1963.3 693.1,1963.2 695.7,1962.9 698.3,1962.7 700.9,1962.8 703.5,1962.9 706.1,1962.7 708.7,1962.4 711.3,1962.7 713.9,1963.0 716.5,1963.0 719.1,1963.0 721.7,1962.7 724.3,1962.4 726.9,1962.8 729.5,1963.3 732.1,1963.2 734.7,1962.7 737.3,1962.5 739.9,1962.8 742.5,1963.2 745.1,1963.1 747.7,1962.9 750.3,1963.0 752.9,1962.9 755.5,1962.4 758.1,1962.2 760.7,1962.5 763.3,1962.5 765.9,1962.2 768.5,1962.5 771.1,1962.8 773.7,1962.7 776.3,1962.4 778.9,1962.2 781.5,1962.2 784.1,1962.5 786.7,1962.8 789.3,1962.9 791.9,1962.7 794.5,1962.2 797.1,1962.2 799.7,1962.5 802.3,1962.8 804.9,1962.8 807.5,1962.5 810.1,1962.4 812.7,1962.6 815.3,1962.3 817.9,1962.4 820.5,1962.9 823.1,1962.9 825.7,1962.3 828.3,1961.9 830.9,1961.6 833.5,1961.5 836.1,1962.2 838.7,1962.6 841.3,1962.2 843.9,1961.6 846.5,1961.4 849.1,1961.5 851.7,1961.7 854.3,1961.9 856.9,1961.9 859.5,1961.7 862.1,1961.3 864.7,1960.6 867.3,1959.5 869.9,1959.1 872.5,1958.7 875.1,1957.7 877.7,1956.1 880.3,1953.8 882.9,1950.2 885.5,1945.3 888.1,1939.2 890.7,1932.3 893.3,1924.7 895.9,1916.2 898.5,1906.8 901.1,1897.5 903.7,1888.7 906.3,1880.8 908.9,1881.3 911.5,1885.4 914.1,1890.8 916.7,1896.3 919.3,1901.7 921.9,1908.8 924.5,1919.0 927.1,1928.9 929.7,1938.0 932.3,1945.5 934.9,1951.9 937.5,1956.0 940.1,1957.7 942.7,1958.4 945.3,1959.0 947.9,1959.8 950.5,1960.4 953.1,1960.9 955.7,1961.1 958.3,1961.4 960.9,1961.8 963.5,1961.9 966.1,1961.8 968.7,1961.7 971.3,1961.4 973.9,1961.2 976.5,1961.7 979.1,1962.2 981.7,1962.0 984.3,1961.8 986.9,1962.1 989.5,1962.3 992.1,1962.7 994.7,1962.7 997.3,1962.4 999.9,1962.2 1002.5,1962.1 1005.1,1962.0 1007.7,1962.0 1010.3,1962.2 1012.9,1962.6 1015.5,1962.8 1018.1,1962.7 1020.7,1962.6 1023.3,1962.6 1025.9,1962.6 1028.5,1962.9 1031.1,1963.1 1033.7,1963.1 1036.3,1962.6 1038.9,1962.4 1041.5,1962.8 1044.1,1962.5 1046.7,1961.9 1049.3,1961.5 1051.9,1961.7 1054.5,1962.3 1057.1,1962.5 1059.7,1962.5 1062.3,1962.7 1064.9,1962.6 1067.5,1962.3 1070.1,1962.0 1072.7,1961.7 1075.3,1961.8 1077.9,1962.1 1080.5,1962.2 1083.1,1962.1 1085.7,1962.1 1088.3,1962.0 1090.9,1961.6 1093.5,1961.2 1096.1,1961.6 1098.7,1962.1 1101.3,1961.9 1103.9,1961.6 1106.5,1961.1 1109.1,1961.0 1111.7,1961.2 1114.3,1961.1 1116.9,1961.1 1119.5,1960.9 1122.1,1960.4 1124.7,1960.5 1127.3,1960.6 1129.9,1960.1 1132.5,1959.4 1135.1,1959.3 1137.7,1959.2 1140.3,1958.9 1142.9,1958.6 1145.5,1958.1 1148.1,1957.4 1150.7,1956.9 1153.3,1956.4 1155.9,1955.3 1158.5,1953.9 1161.1,1952.1 1163.7,1949.9 1166.3,1946.5 1168.9,1941.6 1171.5,1935.3 1174.1,1928.1 1176.7,1920.0 1179.3,1910.4 1181.9,1898.9 1184.5,1886.3 1187.1,1873.1 1189.7,1858.8 1192.3,1844.1 1194.9,1830.3 1197.5,1818.4 1200.1,1809.9 1202.7,1805.2 1205.3,1810.2 1207.9,1819.5 1210.5,1832.0 1213.1,1845.8 1215.7,1860.1 1218.3,1874.4 1220.9,1888.2 1223.5,1901.1 1226.1,1912.2 1228.7,1921.9 1231.3,1930.1 1233.9,1936.4 1236.5,1941.6 1239.1,1946.4 1241.7,1949.8 1244.3,1951.7 1246.9,1953.7 1249.5,1955.5 1252.1,1956.7 1254.7,1957.3 1257.3,1957.7 1259.9,1958.3 1262.5,1958.8 1265.1,1959.0 1267.7,1959.1 1270.3,1959.2 1272.9,1959.3 1275.5,1959.6 1278.1,1960.2 1280.7,1960.5 1283.3,1960.6 1285.9,1960.8 1288.5,1961.2 1291.1,1961.1 1293.7,1961.1 1296.3,1961.6 1298.9,1962.0 1301.5,1961.7 1304.1,1961.7 1306.7,1962.2 1309.3,1962.1 1311.9,1961.6 1314.5,1961.8 1317.1,1962.4 1319.7,1962.8 1322.3,1962.5 1324.9,1962.2 1327.5,1962.6 1330.1,1962.7 1332.7,1962.3 1335.3,1962.3 1337.9,1962.7 1340.5,1963.0 1343.1,1962.9 1345.7,1962.7 1348.3,1962.8 1350.9,1962.7 1353.5,1962.3 1356.1,1962.5 1358.7,1963.2 1361.3,1963.6 1363.9,1963.7 1366.5,1963.4 1369.1,1963.0 1371.7,1963.0 1374.3,1963.1 1376.9,1962.9 1379.5,1962.8 1382.1,1963.1 1384.7,1963.4 1387.3,1963.7 1389.9,1963.2 1392.5,1962.7 1395.1,1963.1 1397.7,1963.3 1400.3,1963.3 1402.9,1963.6 1405.5,1963.5 1408.1,1963.1 1410.7,1963.3 1413.3,1963.5 1415.9,1963.5 1418.5,1963.6 1421.1,1963.5 1423.7,1963.4 1426.3,1963.4 1428.9,1963.5 1431.5,1963.8 1434.1,1963.9 1436.7,1963.8 1439.3,1963.6 1441.9,1963.5 1444.5,1963.3 1447.1,1963.2 1449.7,1963.2 1452.3,1963.3 1454.9,1963.7 1457.5,1963.6 1460.1,1963.2 1462.7,1963.6 1465.3,1964.2 1467.9,1964.0 1470.5,1963.7 1473.1,1963.4 1475.7,1963.2 1478.3,1963.6 1480.9,1964.0 1483.5,1963.9 1486.1,1963.7 1488.7,1963.8 1491.3,1963.7 1493.9,1963.2 1496.5,1962.9 1499.1,1963.5 1501.7,1964.2 1504.3,1964.3 1506.9,1963.6 1509.5,1963.3 1512.1,1963.5 1514.7,1964.0 1517.3,1964.5 1519.9,1964.2 1522.5,1963.4 1525.1,1963.3 1527.7,1963.4 1530.3,1963.4 1532.9,1963.4 1535.5,1963.5 1538.1,1963.8 1540.7,1964.0 1543.3,1963.7 1545.9,1963.7 1548.5,1963.5 1551.1,1963.2 1553.7,1963.5 1556.3,1963.6 1558.9,1963.4 1561.5,1963.6 1564.1,1963.8 1566.7,1963.7 1569.3,1963.9 1571.9,1964.2 1574.5,1964.4 1577.1,1964.5 1579.7,1964.4 1582.3,1964.1 1584.9,1963.9 1587.5,1964.0 1590.1,1964.6 1592.7,1964.7 1595.3,1964.3 1597.9,1964.3 1600.5,1964.4 1603.1,1964.2 1605.7,1964.1 1608.3,1964.2 1610.9,1964.3 1613.5,1964.0 1616.1,1963.7 1618.7,1963.7 1621.3,1963.7 1623.9,1963.9 1626.5,1964.1 1629.1,1964.2 1631.7,1964.4 1634.3,1964.2 1636.9,1963.8 1639.5,1963.4 1642.1,1963.2 1644.7,1963.3 1647.3,1963.5 1649.9,1963.7 1652.5,1963.9 1655.1,1964.2 1657.7,1964.0 1660.3,1963.5 1662.9,1963.5 1665.5,1963.9 1668.1,1964.2 1670.7,1964.2 1673.3,1963.9 1675.9,1963.7 1678.5,1963.7 1681.1,1963.8 1683.7,1964.2 1686.3,1964.2 1688.9,1963.8 1691.5,1963.9 1694.1,1964.5 1696.7,1964.6 1699.3,1963.9 1701.9,1963.8 1704.5,1964.4 1707.1,1964.4 1709.7,1964.4 1712.3,1964.3 1714.9,1964.0 1717.5,1964.1 1720.1,1964.1 1722.7,1964.1 1725.3,1964.3 1727.9,1963.9 1730.5,1963.5 1733.1,1963.6 1735.7,1963.5 1738.3,1963.3 1740.9,1963.3 1743.5,1963.8 1746.1,1963.9 1748.7,1963.9 1751.3,1964.3 1753.9,1964.3 1756.5,1964.3 1759.1,1964.5 1761.7,1964.5 1764.3,1964.4 1766.9,1964.1 1769.5,1963.8 1772.1,1963.9 1774.7,1964.0 1777.3,1964.0 1779.9,1964.1 1782.5,1963.8 1785.1,1963.4 1787.7,1963.5 1790.3,1964.0 1792.9,1963.9 1795.5,1963.7 1798.1,1963.9 1799.0,1963.8" fill="none" stroke="#1F3864" stroke-width="7.9" stroke-linejoin="round" stroke-linecap="butt"/>
<path d="M183.5,2127.9 186.1,2128.1 188.7,2127.7 191.3,2127.5 193.9,2127.7 196.5,2128.1 199.1,2128.0 201.7,2127.6 204.3,2127.5 206.9,2127.9 209.5,2128.2 212.1,2128.4 214.7,2128.2 217.3,2127.9 219.9,2128.1 222.5,2128.4 225.1,2128.0 227.7,2127.5 230.3,2127.5 232.9,2127.8 235.5,2127.8 238.1,2127.8 240.7,2127.8 243.3,2128.0 245.9,2128.1 248.5,2128.2 251.1,2127.8 253.7,2127.5 256.3,2127.6 258.9,2127.6 261.5,2127.4 264.1,2127.5 266.7,2127.6 269.3,2127.7 271.9,2128.1 274.5,2128.6 277.1,2128.2 279.7,2127.8 282.3,2127.5 284.9,2127.6 287.5,2127.9 290.1,2127.9 292.7,2127.8 295.3,2127.7 297.9,2127.6 300.5,2127.7 303.1,2127.8 305.7,2128.0 308.3,2127.9 310.9,2127.8 313.5,2127.9 316.1,2127.8 318.7,2127.8 321.3,2127.8 323.9,2127.9 326.5,2128.0 329.1,2127.9 331.7,2127.6 334.3,2127.5 336.9,2127.7 339.5,2128.0 342.1,2127.9 344.7,2127.7 347.3,2127.7 349.9,2127.7 352.5,2127.6 355.1,2127.6 357.7,2127.4 360.3,2127.2 362.9,2127.0 365.5,2127.2 368.1,2127.6 370.7,2127.8 373.3,2127.8 375.9,2127.6 378.5,2127.5 381.1,2127.4 383.7,2127.3 386.3,2127.4 388.9,2127.4 391.5,2126.9 394.1,2126.8 396.7,2127.1 399.3,2127.0 401.9,2126.9 404.5,2126.6 407.1,2126.5 409.7,2126.8 412.3,2126.8 414.9,2126.2 417.5,2125.9 420.1,2125.5 422.7,2125.1 425.3,2124.9 427.9,2124.9 430.5,2124.7 433.1,2124.1 435.7,2123.3 438.3,2122.4 440.9,2120.9 443.5,2119.1 446.1,2116.5 448.7,2112.4 451.3,2107.3 453.9,2102.0 456.5,2096.1 459.1,2089.3 461.7,2081.4 464.3,2072.5 466.9,2063.5 469.5,2054.7 472.1,2045.6 474.7,2038.1 477.3,2033.9 479.9,2039.8 482.5,2046.5 485.1,2054.3 487.7,2063.4 490.3,2072.9 492.9,2081.9 495.5,2089.5 498.1,2096.4 500.7,2102.8 503.3,2108.3 505.9,2112.9 508.5,2116.2 511.1,2118.8 513.7,2121.1 516.3,2122.7 518.9,2123.5 521.5,2123.7 524.1,2123.8 526.7,2124.3 529.3,2124.8 531.9,2125.2 534.5,2125.6 537.1,2125.8 539.7,2126.1 542.3,2126.2 544.9,2126.2 547.5,2126.4 550.1,2126.7 552.7,2126.8 555.3,2126.7 557.9,2126.5 560.5,2126.7 563.1,2127.3 565.7,2127.5 568.3,2127.1 570.9,2126.9 573.5,2126.9 576.1,2127.1 578.7,2127.6 581.3,2127.9 583.9,2127.6 586.5,2127.0 589.1,2126.9 591.7,2127.5 594.3,2127.5 596.9,2127.2 599.5,2127.2 602.1,2127.6 604.7,2128.3 607.3,2128.3 609.9,2127.8 612.5,2127.4 615.1,2127.1 617.7,2127.2 620.3,2127.4 622.9,2127.4 625.5,2127.2 628.1,2127.4 630.7,2128.1 633.3,2128.1 635.9,2127.5 638.5,2127.4 641.1,2127.9 643.7,2128.0 646.3,2127.6 648.9,2127.5 651.5,2127.4 654.1,2127.4 656.7,2127.7 659.3,2128.1 661.9,2128.4 664.5,2128.4 667.1,2128.0 669.7,2127.7 672.3,2127.6 674.9,2127.6 677.5,2127.4 680.1,2127.4 682.7,2128.0 685.3,2128.4 687.9,2128.4 690.5,2128.3 693.1,2128.0 695.7,2127.8 698.3,2127.8 700.9,2127.7 703.5,2127.4 706.1,2127.2 708.7,2127.4 711.3,2127.7 713.9,2127.9 716.5,2127.9 719.1,2128.2 721.7,2128.1 724.3,2128.2 726.9,2128.1 729.5,2127.6 732.1,2127.4 734.7,2127.7 737.3,2127.9 739.9,2128.1 742.5,2128.2 745.1,2128.2 747.7,2127.9 750.3,2127.5 752.9,2127.7 755.5,2127.6 758.1,2127.5 760.7,2127.7 763.3,2128.0 765.9,2128.2 768.5,2127.9 771.1,2127.4 773.7,2127.1 776.3,2127.1 778.9,2127.5 781.5,2127.7 784.1,2127.6 786.7,2127.6 789.3,2127.8 791.9,2127.7 794.5,2127.4 797.1,2127.2 799.7,2127.4 802.3,2127.9 804.9,2127.9 807.5,2127.5 810.1,2127.4 812.7,2127.4 815.3,2127.3 817.9,2127.1 820.5,2126.9 823.1,2126.7 825.7,2126.9 828.3,2127.3 830.9,2127.2 833.5,2126.8 836.1,2126.6 838.7,2126.6 841.3,2126.4 843.9,2126.2 846.5,2126.1 849.1,2125.9 851.7,2125.5 854.3,2125.0 856.9,2124.7 859.5,2124.5 862.1,2124.0 864.7,2123.0 867.3,2122.1 869.9,2120.8 872.5,2118.8 875.1,2116.2 877.7,2112.7 880.3,2108.0 882.9,2102.5 885.5,2096.5 888.1,2090.1 890.7,2083.1 893.3,2075.2 895.9,2067.0 898.5,2059.4 901.1,2053.0 903.7,2048.7 906.3,2052.7 908.9,2058.7 911.5,2066.0 914.1,2073.8 916.7,2081.3 919.3,2088.7 921.9,2095.3 924.5,2100.8 927.1,2106.0 929.7,2111.1 932.3,2115.5 934.9,2118.6 937.5,2120.6 940.1,2122.2 942.7,2123.2 945.3,2123.8 947.9,2124.3 950.5,2124.6 953.1,2124.7 955.7,2125.0 958.3,2125.4 960.9,2126.2 963.5,2127.0 966.1,2127.1 968.7,2126.4 971.3,2126.0 973.9,2126.2 976.5,2126.7 979.1,2127.2 981.7,2127.1 984.3,2126.9 986.9,2127.1 989.5,2127.0 992.1,2126.7 994.7,2126.8 997.3,2127.0 999.9,2127.1 1002.5,2127.2 1005.1,2127.2 1007.7,2127.2 1010.3,2127.0 1012.9,2127.2 1015.5,2127.6 1018.1,2127.6 1020.7,2127.2 1023.3,2127.0 1025.9,2127.2 1028.5,2127.3 1031.1,2127.2 1033.7,2127.3 1036.3,2127.4 1038.9,2127.3 1041.5,2127.3 1044.1,2127.4 1046.7,2127.5 1049.3,2127.4 1051.9,2127.4 1054.5,2127.1 1057.1,2126.9 1059.7,2127.1 1062.3,2126.9 1064.9,2127.0 1067.5,2127.3 1070.1,2127.2 1072.7,2126.7 1075.3,2127.0 1077.9,2127.5 1080.5,2127.2 1083.1,2126.7 1085.7,2126.5 1088.3,2126.3 1090.9,2126.2 1093.5,2126.2 1096.1,2126.3 1098.7,2126.3 1101.3,2126.4 1103.9,2126.0 1106.5,2125.7 1109.1,2125.7 1111.7,2125.5 1114.3,2125.2 1116.9,2125.2 1119.5,2124.9 1122.1,2124.6 1124.7,2124.8 1127.3,2124.8 1129.9,2124.2 1132.5,2123.8 1135.1,2123.8 1137.7,2123.4 1140.3,2122.9 1142.9,2122.0 1145.5,2120.8 1148.1,2119.9 1150.7,2119.2 1153.3,2117.9 1155.9,2116.1 1158.5,2113.1 1161.1,2109.3 1163.7,2104.6 1166.3,2098.8 1168.9,2092.0 1171.5,2083.8 1174.1,2074.1 1176.7,2063.1 1179.3,2051.5 1181.9,2039.3 1184.5,2026.2 1187.1,2012.4 1189.7,1999.1 1192.3,1987.0 1194.9,1977.2 1197.5,1970.7 1200.1,1971.8 1202.7,1979.1 1205.3,1989.8 1207.9,2002.5 1210.5,2015.8 1213.1,2029.6 1215.7,2043.3 1218.3,2055.8 1220.9,2066.8 1223.5,2077.0 1226.1,2086.3 1228.7,2094.1 1231.3,2100.8 1233.9,2106.2 1236.5,2110.3 1239.1,2113.6 1241.7,2116.3 1244.3,2118.2 1246.9,2119.7 1249.5,2121.2 1252.1,2122.4 1254.7,2123.2 1257.3,2123.3 1259.9,2123.3 1262.5,2123.9 1265.1,2124.5 1267.7,2124.6 1270.3,2124.8 1272.9,2125.0 1275.5,2125.0 1278.1,2125.3 1280.7,2125.3 1283.3,2125.5 1285.9,2126.1 1288.5,2126.3 1291.1,2126.2 1293.7,2125.9 1296.3,2126.0 1298.9,2126.4 1301.5,2126.5 1304.1,2126.4 1306.7,2126.5 1309.3,2126.6 1311.9,2126.8 1314.5,2127.2 1317.1,2127.3 1319.7,2127.3 1322.3,2127.2 1324.9,2127.1 1327.5,2127.1 1330.1,2127.3 1332.7,2127.4 1335.3,2127.6 1337.9,2127.9 1340.5,2127.8 1343.1,2127.3 1345.7,2127.5 1348.3,2128.0 1350.9,2128.4 1353.5,2128.1 1356.1,2127.6 1358.7,2127.7 1361.3,2127.9 1363.9,2128.0 1366.5,2127.8 1369.1,2127.8 1371.7,2127.9 1374.3,2127.9 1376.9,2127.7 1379.5,2127.6 1382.1,2128.1 1384.7,2128.4 1387.3,2128.1 1389.9,2127.9 1392.5,2128.1 1395.1,2128.3 1397.7,2128.2 1400.3,2128.3 1402.9,2128.4 1405.5,2128.1 1408.1,2127.8 1410.7,2127.7 1413.3,2127.8 1415.9,2127.9 1418.5,2127.9 1421.1,2128.2 1423.7,2128.6 1426.3,2128.5 1428.9,2128.5 1431.5,2128.8 1434.1,2128.4 1436.7,2128.0 1439.3,2128.2 1441.9,2128.4 1444.5,2128.5 1447.1,2128.2 1449.7,2128.0 1452.3,2128.0 1454.9,2128.2 1457.5,2128.2 1460.1,2128.3 1462.7,2128.3 1465.3,2128.4 1467.9,2128.7 1470.5,2128.8 1473.1,2128.5 1475.7,2128.2 1478.3,2128.2 1480.9,2128.7 1483.5,2129.0 1486.1,2128.6 1488.7,2128.2 1491.3,2128.2 1493.9,2128.1 1496.5,2128.2 1499.1,2128.6 1501.7,2128.9 1504.3,2128.7 1506.9,2128.3 1509.5,2128.2 1512.1,2128.4 1514.7,2128.5 1517.3,2128.2 1519.9,2128.2 1522.5,2128.6 1525.1,2128.9 1527.7,2128.9 1530.3,2128.7 1532.9,2128.6 1535.5,2128.7 1538.1,2128.9 1540.7,2129.0 1543.3,2128.6 1545.9,2128.6 1548.5,2128.9 1551.1,2128.9 1553.7,2128.9 1556.3,2128.8 1558.9,2128.6 1561.5,2128.4 1564.1,2128.2 1566.7,2128.5 1569.3,2129.1 1571.9,2129.1 1574.5,2129.0 1577.1,2129.0 1579.7,2129.0 1582.3,2129.0 1584.9,2128.7 1587.5,2128.7 1590.1,2128.9 1592.7,2128.6 1595.3,2128.4 1597.9,2128.5 1600.5,2128.6 1603.1,2128.7 1605.7,2128.5 1608.3,2128.4 1610.9,2128.7 1613.5,2129.0 1616.1,2128.9 1618.7,2128.8 1621.3,2128.8 1623.9,2128.9 1626.5,2129.2 1629.1,2129.0 1631.7,2128.7 1634.3,2128.9 1636.9,2128.9 1639.5,2129.0 1642.1,2129.3 1644.7,2129.2 1647.3,2129.3 1649.9,2129.1 1652.5,2128.7 1655.1,2128.9 1657.7,2129.0 1660.3,2128.6 1662.9,2128.2 1665.5,2128.4 1668.1,2128.6 1670.7,2128.7 1673.3,2129.1 1675.9,2128.9 1678.5,2128.7 1681.1,2128.6 1683.7,2128.5 1686.3,2128.6 1688.9,2128.8 1691.5,2128.9 1694.1,2128.7 1696.7,2128.6 1699.3,2128.6 1701.9,2128.7 1704.5,2128.8 1707.1,2128.7 1709.7,2128.6 1712.3,2128.7 1714.9,2128.7 1717.5,2128.9 1720.1,2129.3 1722.7,2129.1 1725.3,2128.8 1727.9,2128.9 1730.5,2129.3 1733.1,2129.4 1735.7,2128.9 1738.3,2128.5 1740.9,2128.7 1743.5,2128.9 1746.1,2128.7 1748.7,2128.4 1751.3,2128.4 1753.9,2128.6 1756.5,2128.7 1759.1,2128.7 1761.7,2129.1 1764.3,2129.7 1766.9,2129.5 1769.5,2128.9 1772.1,2128.9 1774.7,2128.9 1777.3,2129.0 1779.9,2129.1 1782.5,2128.9 1785.1,2128.8 1787.7,2128.8 1790.3,2129.0 1792.9,2129.3 1795.5,2129.1 1798.1,2128.7 1799.0,2128.6" fill="none" stroke="#2F5597" stroke-width="7.9" stroke-linejoin="round" stroke-linecap="butt"/>
<path d="M183.5,2292.3 186.1,2292.3 188.7,2292.4 191.3,2292.4 193.9,2292.4 196.5,2292.4 199.1,2292.4 201.7,2292.3 204.3,2292.3 206.9,2292.3 209.5,2292.3 212.1,2292.4 214.7,2292.4 217.3,2292.4 219.9,2292.5 222.5,2292.5 225.1,2292.4 227.7,2292.4 230.3,2292.4 232.9,2292.3 235.5,2292.4 238.1,2292.3 240.7,2292.4 243.3,2292.4 245.9,2292.4 248.5,2292.3 251.1,2292.4 253.7,2292.4 256.3,2292.4 258.9,2292.3 261.5,2292.4 264.1,2292.3 266.7,2292.3 269.3,2292.3 271.9,2292.3 274.5,2292.3 277.1,2292.3 279.7,2292.3 282.3,2292.3 284.9,2292.3 287.5,2292.2 290.1,2292.2 292.7,2292.2 295.3,2292.2 297.9,2292.2 300.5,2292.2 303.1,2292.1 305.7,2292.2 308.3,2292.2 310.9,2292.2 313.5,2292.2 316.1,2292.1 318.7,2292.1 321.3,2292.2 323.9,2292.2 326.5,2292.1 329.1,2292.1 331.7,2292.1 334.3,2292.1 336.9,2292.1 339.5,2292.1 342.1,2292.0 344.7,2292.0 347.3,2292.0 349.9,2292.0 352.5,2292.0 355.1,2292.0 357.7,2292.0 360.3,2292.0 362.9,2291.9 365.5,2291.9 368.1,2291.9 370.7,2291.8 373.3,2291.8 375.9,2291.8 378.5,2291.8 381.1,2291.7 383.7,2291.6 386.3,2291.5 388.9,2291.4 391.5,2291.4 394.1,2291.3 396.7,2291.3 399.3,2291.3 401.9,2291.3 404.5,2291.1 407.1,2291.0 409.7,2290.8 412.3,2290.7 414.9,2290.6 417.5,2290.5 420.1,2290.3 422.7,2290.1 425.3,2289.9 427.9,2289.7 430.5,2289.5 433.1,2289.2 435.7,2288.9 438.3,2288.3 440.9,2287.5 443.5,2286.6 446.1,2285.4 448.7,2283.8 451.3,2281.4 453.9,2278.1 456.5,2274.1 459.1,2269.1 461.7,2263.0 464.3,2256.0 466.9,2248.1 469.5,2239.4 472.1,2230.2 474.7,2221.0 477.3,2212.7 479.9,2206.2 482.5,2202.3 485.1,2203.7 487.7,2208.9 490.3,2216.3 492.9,2225.1 495.5,2234.3 498.1,2243.4 500.7,2251.8 503.3,2259.3 505.9,2265.9 508.5,2271.6 511.1,2276.2 513.7,2279.7 516.3,2282.5 518.9,2284.5 521.5,2286.0 524.1,2287.1 526.7,2287.9 529.3,2288.5 531.9,2288.9 534.5,2289.2 537.1,2289.5 539.7,2289.7 542.3,2290.0 544.9,2290.2 547.5,2290.4 550.1,2290.5 552.7,2290.7 555.3,2290.8 557.9,2290.9 560.5,2291.1 563.1,2291.2 565.7,2291.2 568.3,2291.3 570.9,2291.4 573.5,2291.4 576.1,2291.4 578.7,2291.5 581.3,2291.6 583.9,2291.6 586.5,2291.7 589.1,2291.7 591.7,2291.8 594.3,2291.7 596.9,2291.7 599.5,2291.8 602.1,2291.9 604.7,2291.9 607.3,2291.9 609.9,2291.9 612.5,2292.0 615.1,2292.0 617.7,2292.0 620.3,2292.1 622.9,2292.1 625.5,2292.0 628.1,2292.1 630.7,2292.1 633.3,2292.1 635.9,2292.1 638.5,2292.1 641.1,2292.1 643.7,2292.2 646.3,2292.2 648.9,2292.1 651.5,2292.1 654.1,2292.1 656.7,2292.1 659.3,2292.2 661.9,2292.2 664.5,2292.2 667.1,2292.2 669.7,2292.2 672.3,2292.2 674.9,2292.2 677.5,2292.3 680.1,2292.3 682.7,2292.3 685.3,2292.2 687.9,2292.2 690.5,2292.3 693.1,2292.2 695.7,2292.2 698.3,2292.1 700.9,2292.2 703.5,2292.3 706.1,2292.3 708.7,2292.2 711.3,2292.2 713.9,2292.3 716.5,2292.2 719.1,2292.2 721.7,2292.1 724.3,2292.2 726.9,2292.2 729.5,2292.2 732.1,2292.2 734.7,2292.2 737.3,2292.2 739.9,2292.1 742.5,2292.1 745.1,2292.2 747.7,2292.2 750.3,2292.2 752.9,2292.2 755.5,2292.2 758.1,2292.2 760.7,2292.2 763.3,2292.1 765.9,2292.1 768.5,2292.1 771.1,2292.1 773.7,2292.0 776.3,2292.1 778.9,2292.1 781.5,2292.1 784.1,2292.1 786.7,2292.1 789.3,2292.0 791.9,2291.9 794.5,2291.9 797.1,2291.9 799.7,2291.8 802.3,2291.8 804.9,2291.8 807.5,2291.8 810.1,2291.8 812.7,2291.8 815.3,2291.7 817.9,2291.6 820.5,2291.6 823.1,2291.6 825.7,2291.6 828.3,2291.5 830.9,2291.5 833.5,2291.4 836.1,2291.3 838.7,2291.1 841.3,2291.0 843.9,2291.0 846.5,2290.8 849.1,2290.7 851.7,2290.5 854.3,2290.3 856.9,2290.2 859.5,2290.0 862.1,2289.7 864.7,2289.2 867.3,2288.8 869.9,2288.1 872.5,2287.3 875.1,2286.0 877.7,2284.2 880.3,2281.8 882.9,2278.7 885.5,2274.7 888.1,2269.9 890.7,2264.2 893.3,2257.7 895.9,2250.5 898.5,2242.7 901.1,2235.0 903.7,2227.9 906.3,2222.3 908.9,2219.0 911.5,2220.2 914.1,2224.6 916.7,2231.0 919.3,2238.5 921.9,2246.2 924.5,2253.7 927.1,2260.7 929.7,2266.8 932.3,2272.1 934.9,2276.6 937.5,2280.2 940.1,2282.9 942.7,2285.0 945.3,2286.5 947.9,2287.6 950.5,2288.3 953.1,2288.8 955.7,2289.2 958.3,2289.6 960.9,2289.9 963.5,2290.1 966.1,2290.3 968.7,2290.5 971.3,2290.6 973.9,2290.7 976.5,2290.9 979.1,2291.0 981.7,2291.1 984.3,2291.1 986.9,2291.1 989.5,2291.1 992.1,2291.3 994.7,2291.3 997.3,2291.4 999.9,2291.4 1002.5,2291.5 1005.1,2291.5 1007.7,2291.5 1010.3,2291.5 1012.9,2291.5 1015.5,2291.5 1018.1,2291.5 1020.7,2291.5 1023.3,2291.6 1025.9,2291.6 1028.5,2291.5 1031.1,2291.5 1033.7,2291.6 1036.3,2291.6 1038.9,2291.6 1041.5,2291.6 1044.1,2291.6 1046.7,2291.6 1049.3,2291.5 1051.9,2291.5 1054.5,2291.5 1057.1,2291.5 1059.7,2291.4 1062.3,2291.4 1064.9,2291.4 1067.5,2291.3 1070.1,2291.3 1072.7,2291.4 1075.3,2291.3 1077.9,2291.2 1080.5,2291.1 1083.1,2291.1 1085.7,2291.0 1088.3,2291.0 1090.9,2290.9 1093.5,2290.9 1096.1,2290.8 1098.7,2290.8 1101.3,2290.7 1103.9,2290.7 1106.5,2290.6 1109.1,2290.4 1111.7,2290.3 1114.3,2290.2 1116.9,2290.1 1119.5,2289.9 1122.1,2289.7 1124.7,2289.5 1127.3,2289.2 1129.9,2289.0 1132.5,2288.8 1135.1,2288.5 1137.7,2288.3 1140.3,2288.0 1142.9,2287.6 1145.5,2287.1 1148.1,2286.5 1150.7,2286.0 1153.3,2285.2 1155.9,2284.3 1158.5,2283.0 1161.1,2281.2 1163.7,2278.9 1166.3,2275.9 1168.9,2271.9 1171.5,2266.7 1174.1,2260.4 1176.7,2252.8 1179.3,2243.8 1181.9,2233.4 1184.5,2221.8 1187.1,2209.0 1189.7,2195.3 1192.3,2181.2 1194.9,2167.4 1197.5,2154.8 1200.1,2144.3 1202.7,2137.1 1205.3,2135.7 1207.9,2141.6 1210.5,2151.2 1213.1,2163.4 1215.7,2177.0 1218.3,2191.0 1220.9,2204.8 1223.5,2217.9 1226.1,2229.9 1228.7,2240.8 1231.3,2250.2 1233.9,2258.3 1236.5,2265.0 1239.1,2270.5 1241.7,2274.8 1244.3,2278.1 1246.9,2280.6 1249.5,2282.5 1252.1,2283.9 1254.7,2285.1 1257.3,2285.8 1259.9,2286.5 1262.5,2287.0 1265.1,2287.5 1267.7,2287.9 1270.3,2288.3 1272.9,2288.6 1275.5,2289.0 1278.1,2289.2 1280.7,2289.3 1283.3,2289.5 1285.9,2289.8 1288.5,2290.0 1291.1,2290.1 1293.7,2290.3 1296.3,2290.4 1298.9,2290.5 1301.5,2290.7 1304.1,2290.8 1306.7,2290.9 1309.3,2291.0 1311.9,2291.1 1314.5,2291.1 1317.1,2291.2 1319.7,2291.4 1322.3,2291.4 1324.9,2291.4 1327.5,2291.4 1330.1,2291.4 1332.7,2291.5 1335.3,2291.6 1337.9,2291.7 1340.5,2291.7 1343.1,2291.7 1345.7,2291.8 1348.3,2291.8 1350.9,2291.8 1353.5,2291.9 1356.1,2292.0 1358.7,2291.9 1361.3,2291.9 1363.9,2292.0 1366.5,2292.1 1369.1,2292.1 1371.7,2292.1 1374.3,2292.1 1376.9,2292.1 1379.5,2292.2 1382.1,2292.2 1384.7,2292.1 1387.3,2292.1 1389.9,2292.2 1392.5,2292.3 1395.1,2292.3 1397.7,2292.3 1400.3,2292.4 1402.9,2292.4 1405.5,2292.4 1408.1,2292.3 1410.7,2292.3 1413.3,2292.4 1415.9,2292.3 1418.5,2292.3 1421.1,2292.4 1423.7,2292.4 1426.3,2292.4 1428.9,2292.4 1431.5,2292.5 1434.1,2292.4 1436.7,2292.4 1439.3,2292.3 1441.9,2292.4 1444.5,2292.5 1447.1,2292.6 1449.7,2292.5 1452.3,2292.4 1454.9,2292.4 1457.5,2292.5 1460.1,2292.5 1462.7,2292.5 1465.3,2292.5 1467.9,2292.5 1470.5,2292.6 1473.1,2292.6 1475.7,2292.6 1478.3,2292.6 1480.9,2292.6 1483.5,2292.6 1486.1,2292.6 1488.7,2292.6 1491.3,2292.7 1493.9,2292.7 1496.5,2292.7 1499.1,2292.8 1501.7,2292.7 1504.3,2292.6 1506.9,2292.6 1509.5,2292.7 1512.1,2292.7 1514.7,2292.6 1517.3,2292.6 1519.9,2292.6 1522.5,2292.6 1525.1,2292.6 1527.7,2292.6 1530.3,2292.7 1532.9,2292.7 1535.5,2292.7 1538.1,2292.7 1540.7,2292.7 1543.3,2292.7 1545.9,2292.7 1548.5,2292.8 1551.1,2292.8 1553.7,2292.7 1556.3,2292.7 1558.9,2292.7 1561.5,2292.6 1564.1,2292.6 1566.7,2292.7 1569.3,2292.8 1571.9,2292.8 1574.5,2292.8 1577.1,2292.8 1579.7,2292.8 1582.3,2292.7 1584.9,2292.8 1587.5,2292.8 1590.1,2292.8 1592.7,2292.7 1595.3,2292.8 1597.9,2292.8 1600.5,2292.8 1603.1,2292.8 1605.7,2292.8 1608.3,2292.9 1610.9,2292.8 1613.5,2292.8 1616.1,2292.8 1618.7,2292.8 1621.3,2292.7 1623.9,2292.8 1626.5,2292.8 1629.1,2292.9 1631.7,2292.9 1634.3,2292.8 1636.9,2292.8 1639.5,2292.8 1642.1,2292.8 1644.7,2292.9 1647.3,2292.9 1649.9,2292.8 1652.5,2292.8 1655.1,2292.8 1657.7,2292.9 1660.3,2292.8 1662.9,2292.8 1665.5,2292.8 1668.1,2292.8 1670.7,2292.8 1673.3,2292.9 1675.9,2292.9 1678.5,2292.8 1681.1,2292.8 1683.7,2292.9 1686.3,2292.9 1688.9,2292.9 1691.5,2292.9 1694.1,2292.9 1696.7,2292.9 1699.3,2292.9 1701.9,2292.9 1704.5,2292.9 1707.1,2292.9 1709.7,2292.9 1712.3,2292.8 1714.9,2292.8 1717.5,2292.9 1720.1,2293.0 1722.7,2293.0 1725.3,2293.0 1727.9,2292.9 1730.5,2292.9 1733.1,2292.9 1735.7,2292.9 1738.3,2292.9 1740.9,2292.9 1743.5,2292.9 1746.1,2292.9 1748.7,2292.9 1751.3,2292.9 1753.9,2292.9 1756.5,2292.9 1759.1,2292.9 1761.7,2293.0 1764.3,2293.0 1766.9,2292.9 1769.5,2292.8 1772.1,2292.9 1774.7,2292.9 1777.3,2293.0 1779.9,2292.9 1782.5,2292.9 1785.1,2292.9 1787.7,2292.9 1790.3,2293.0 1792.9,2293.0 1795.5,2293.0 1798.1,2293.0 1799.0,2293.0" fill="none" stroke="#8FAADC" stroke-width="7.9" stroke-linejoin="round" stroke-linecap="butt"/>
</g>
<g id="standard">
<polygon points="506.7,2459.3 510.5,2367.0 512.0,2364.0 515.5,2364.0 517.0,2367.0 520.7,2459.3" fill="#000"/>
<polygon points="930.0,2459.3 933.2,2386.0 934.8,2383.0 939.2,2383.0 940.8,2386.0 944.0,2459.3" fill="#000"/>
<polygon points="1200.1,2459.3 1203.3,2294.0 1204.8,2291.0 1210.3,2291.0 1211.8,2294.0 1215.1,2459.3" fill="#000"/>
</g>
<line x1="1207.1" y1="192.3" x2="1207.1" y2="2276.2" stroke="#000" stroke-width="3.9" stroke-dasharray="20.7 13.964" stroke-dashoffset="17.3"/>
<g id="axis" stroke="#000" stroke-width="8" fill="none">
<path d="M184.7,2479 V2459.3 H1798.0 V2479" stroke-linejoin="miter"/>
<path d="M990.9,2459.3 V2477.8"/>
</g>
<g font-size="62" font-weight="bold" text-anchor="middle">
<text transform="translate(186.8,2553.3) scale(1,1.050)">30</text>
<text transform="translate(992.3,2553.3) scale(1,1.050)">35</text>
<text transform="translate(1796,2553.3) scale(1,1.050)">40</text>
</g>
<text transform="translate(874.5,2689.5) scale(1,1.050)" font-size="72" font-weight="bold"><tspan font-style="italic" dx="1">2</tspan><tspan font-style="italic" dx="1.5">θ</tspan><tspan dx="-2.5"> (</tspan><tspan dx="2.8">°</tspan><tspan dx="3.8">)</tspan></text>
<text transform="translate(73.4,1405) rotate(-90) scale(1,1.050)" font-size="72" font-weight="bold" text-anchor="middle">Intensity (u.a.)</text>
<g font-size="48.5" font-weight="bold" text-anchor="middle" letter-spacing="3">
<text transform="translate(505,136.9) rotate(-90) scale(1,1.050)">(100)</text>
<text transform="translate(931.7,146.8) rotate(-90) scale(1,1.050)">(002)</text>
<text transform="translate(1214.8,65.2) rotate(-90) scale(1,1.050)">(101)</text>
</g>
<g id="labels">
<text transform="translate(1300.6,281.5) scale(1,1.050)" font-size="62" font-weight="bold">NaOH <tspan font-size="41.3" font-style="italic" dy="-19.05">ZAD 2</tspan><tspan dy="23.35">–</tspan><tspan dy="-4.3">GO </tspan><tspan font-size="41.3" font-style="italic" dy="-19.05" dx="3">1 4</tspan></text>
<text transform="translate(1300.9,452.4) scale(1,1.050)" font-size="62" font-weight="bold">NaOH <tspan font-size="41.3" font-style="italic" dy="-19.05">ZAD 1</tspan><tspan dy="23.35">–</tspan><tspan dy="-4.3">GO </tspan><tspan font-size="41.3" font-style="italic" dy="-19.05" dx="3">1 4</tspan></text>
<text transform="translate(1260.8,616.0) scale(1,1.050)" font-size="62" font-weight="bold">NaOH <tspan font-size="41.3" font-style="italic" dy="-19.05">ZAD 0.5</tspan><tspan dy="23.35">–</tspan><tspan dy="-4.3">GO </tspan><tspan font-size="41.3" font-style="italic" dy="-19.05" dx="3">1 4</tspan></text>
<text transform="translate(1392.1,779.0) scale(1,1.050)" font-size="62" font-weight="bold">NaOH <tspan font-size="41.3" font-style="italic" dy="-19.05">ZAD 2</tspan></text>
<text transform="translate(1392.1,955.0) scale(1,1.050)" font-size="62" font-weight="bold">NaOH <tspan font-size="41.3" font-style="italic" dy="-19.05">ZAD 1</tspan></text>
<text transform="translate(1384.8,1118.0) scale(1,1.050)" font-size="62" font-weight="bold">NaOH <tspan font-size="41.3" font-style="italic" dy="-19.05">ZAD 0.5</tspan></text>
<text transform="translate(1295.4,1425.5) scale(1,1.050)" font-size="62" font-weight="bold">NaOH <tspan font-size="41.3" font-style="italic" dy="-19.05">ZA 2</tspan><tspan dy="23.35">–</tspan><tspan dy="-4.3">GO </tspan><tspan font-size="41.3" font-style="italic" dy="-19.05" dx="3">1 4</tspan></text>
<text transform="translate(1277.9,1596.0) scale(1,1.050)" font-size="62" font-weight="bold">NaOH <tspan font-size="41.3" font-style="italic" dy="-19.05">ZA 1</tspan><tspan dy="23.35">–</tspan><tspan dy="-4.3">GO </tspan><tspan font-size="41.3" font-style="italic" dy="-19.05" dx="3">1 4</tspan></text>
<text transform="translate(1260.8,1764.0) scale(1,1.050)" font-size="62" font-weight="bold">NaOH <tspan font-size="41.3" font-style="italic" dy="-19.05">ZA 0.5</tspan><tspan dy="23.35">–</tspan><tspan dy="-4.3">GO </tspan><tspan font-size="41.3" font-style="italic" dy="-19.05" dx="3">1 4</tspan></text>
<text transform="translate(1374.9,1933.0) scale(1,1.050)" font-size="62" font-weight="bold">NaOH <tspan font-size="41.3" font-style="italic" dy="-19.05">ZA 2</tspan></text>
<text transform="translate(1366.5,2089.5) scale(1,1.050)" font-size="62" font-weight="bold">NaOH <tspan font-size="41.3" font-style="italic" dy="-19.05">ZA 1</tspan></text>
<text transform="translate(1364.0,2259.5) scale(1,1.050)" font-size="62" font-weight="bold">NaOH <tspan font-size="41.3" font-style="italic" dy="-19.05">ZA 0.5</tspan></text>
</g>
<g font-size="47.7" font-weight="bold" text-anchor="middle">
<text transform="translate(1512,2371.5) scale(1.09,1.050)">ZnO standard</text>
<text transform="translate(1514,2430.5) scale(1.09,1.050)">JCPDS 36-1451</text>
</g>
</g>
</svg>
</body></html>
